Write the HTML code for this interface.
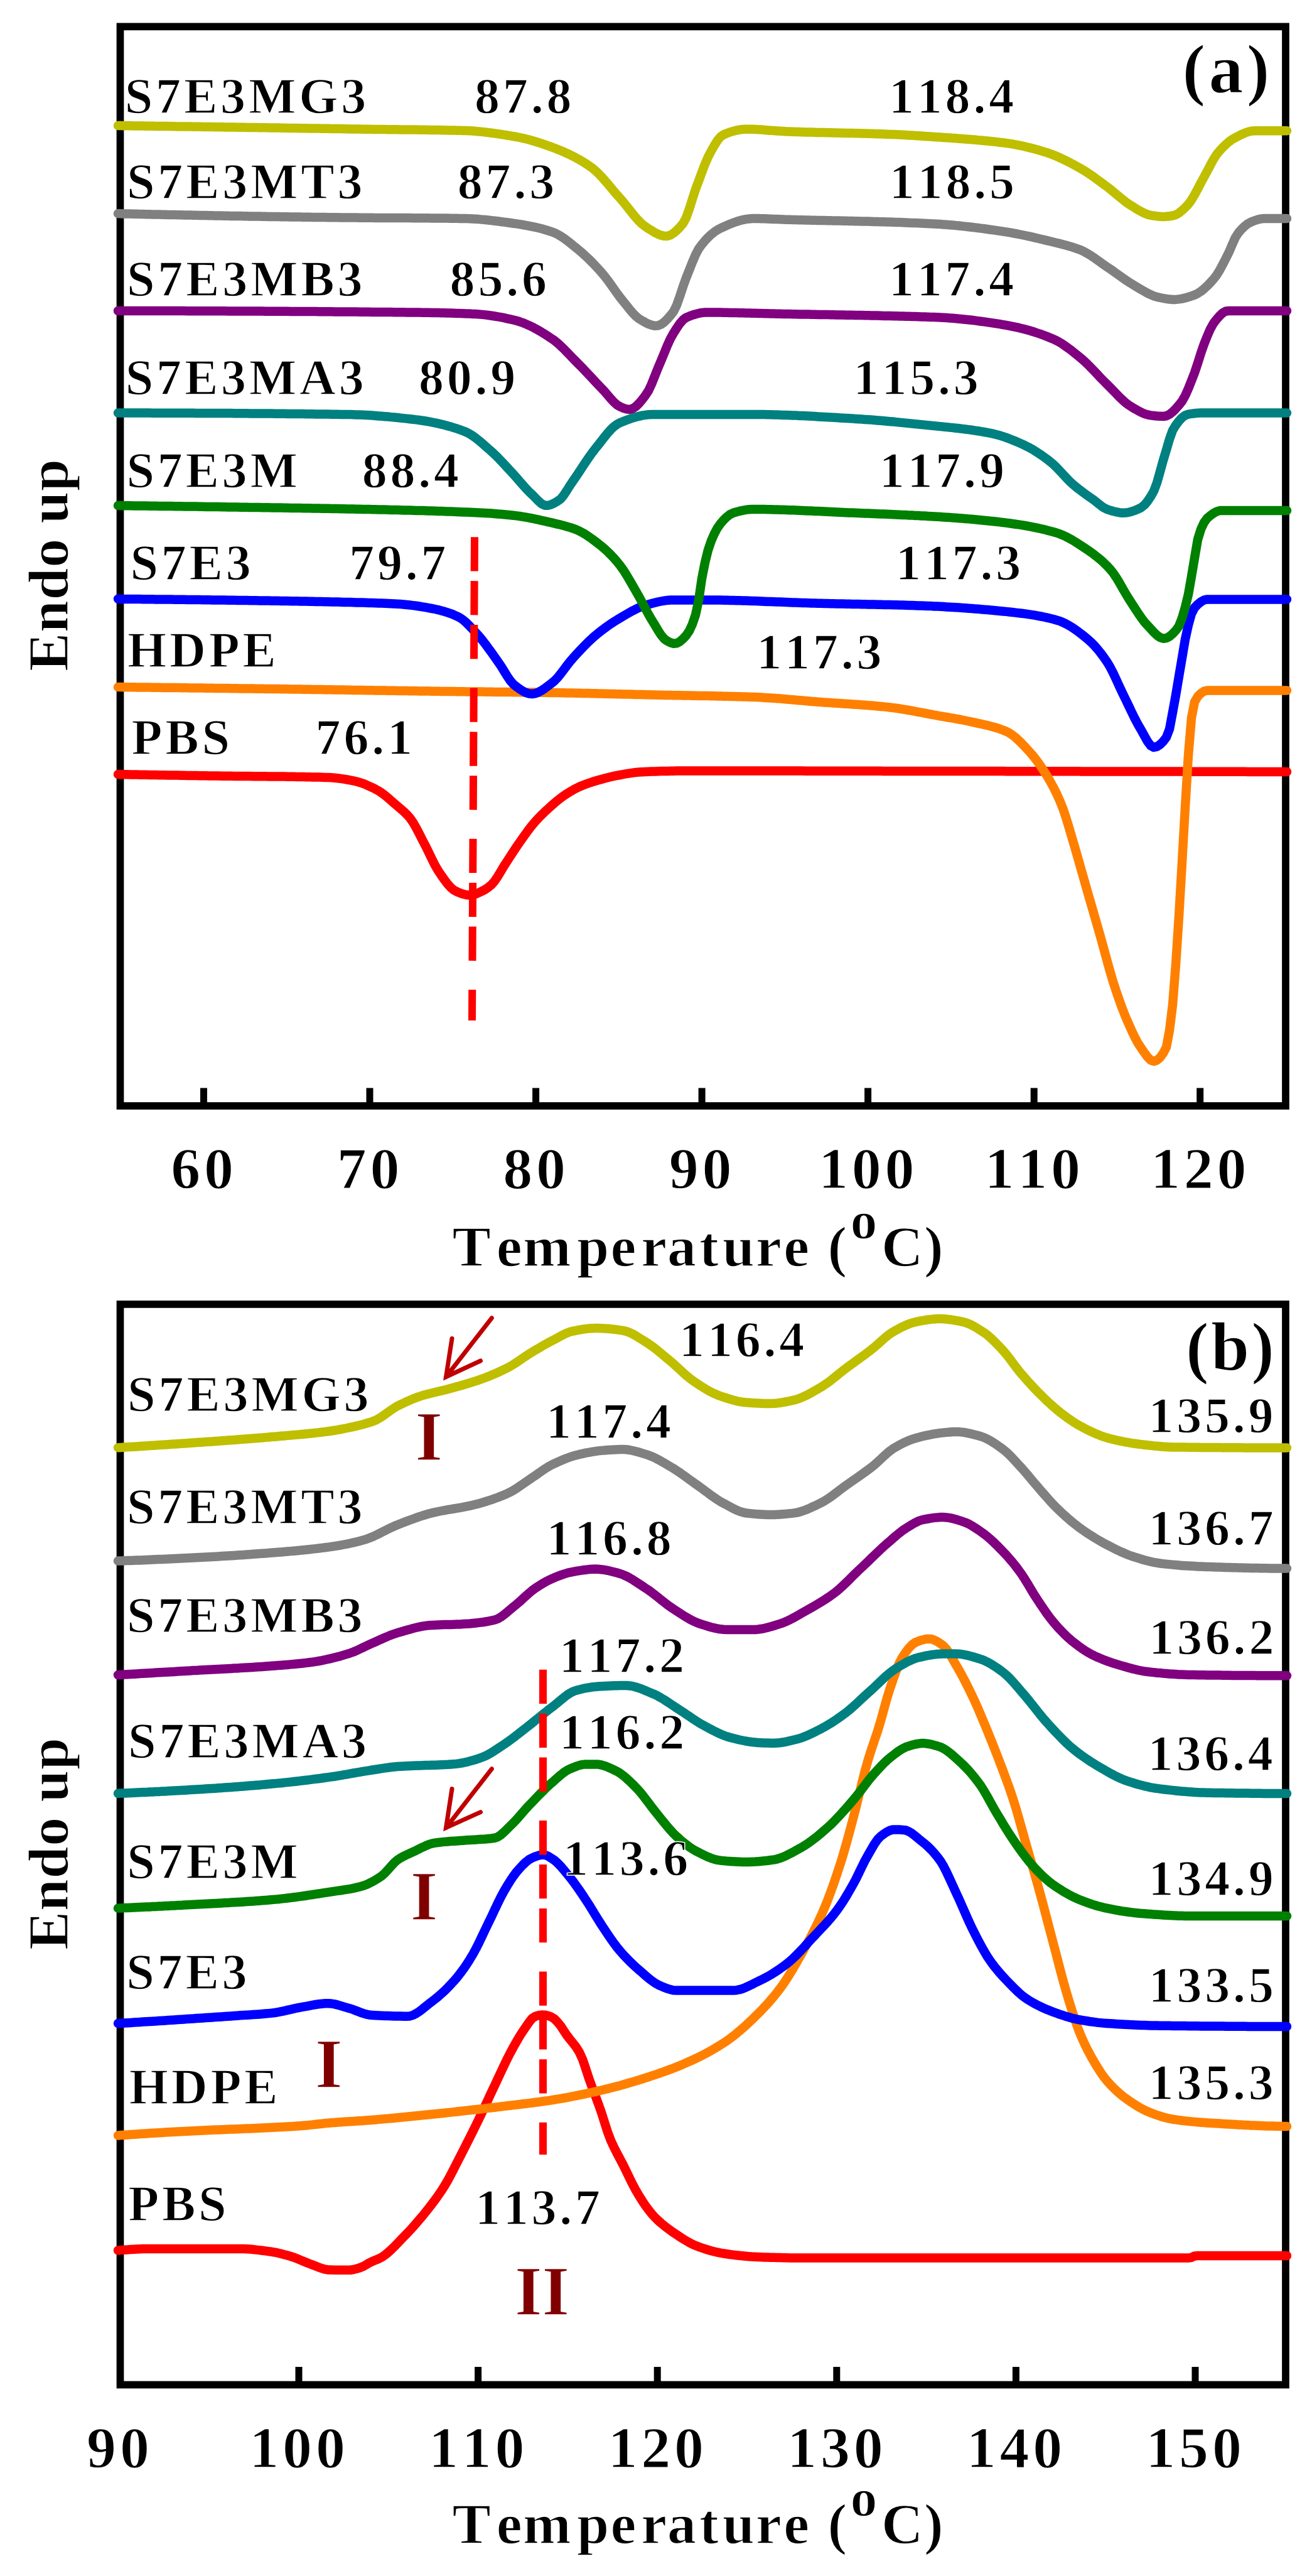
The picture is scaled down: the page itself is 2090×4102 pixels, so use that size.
<!DOCTYPE html><html><head><meta charset="utf-8"><title>DSC curves</title>
<style>html,body{margin:0;padding:0;background:#fff}svg{display:block}text{font-family:"Liberation Serif","DejaVu Serif",serif;font-weight:bold;fill:#000;stroke:#fff;stroke-width:1.4px}</style></head><body>
<svg width="2090" height="4102" viewBox="0 0 2090 4102">
<rect width="2090" height="4102" fill="#fff"/>
<rect x="191.5" y="42.4" width="1856.5" height="1718.6" fill="none" stroke="#000" stroke-width="11.7"/>
<rect x="319.0" y="1732.5" width="11" height="28.5" fill="#000"/>
<rect x="583.5" y="1732.5" width="11" height="28.5" fill="#000"/>
<rect x="848.1" y="1732.5" width="11" height="28.5" fill="#000"/>
<rect x="1112.6" y="1732.5" width="11" height="28.5" fill="#000"/>
<rect x="1377.1" y="1732.5" width="11" height="28.5" fill="#000"/>
<rect x="1641.7" y="1732.5" width="11" height="28.5" fill="#000"/>
<rect x="1906.2" y="1732.5" width="11" height="28.5" fill="#000"/>
<path d="M188 1233.1 193 1233.2 198 1233.3 203 1233.3 208 1233.4 213 1233.5 218 1233.6 223 1233.7 228 1233.8 233 1233.8 238 1233.9 243 1234.0 248 1234.1 253 1234.2 258 1234.2 263 1234.3 268 1234.4 273 1234.5 278 1234.6 283 1234.6 288 1234.7 293 1234.8 298 1234.9 303 1234.9 308 1235.0 313 1235.1 318 1235.2 323 1235.2 328 1235.3 333 1235.4 338 1235.5 343 1235.5 348 1235.6 353 1235.7 358 1235.7 363 1235.8 368 1235.8 373 1235.9 378 1235.9 383 1236.0 388 1236.0 393 1236.1 398 1236.1 403 1236.2 408 1236.2 413 1236.2 418 1236.3 423 1236.3 428 1236.4 433 1236.4 438 1236.5 443 1236.5 448 1236.6 453 1236.6 458 1236.7 463 1236.8 468 1236.8 473 1236.9 478 1237.0 483 1237.1 488 1237.2 493 1237.3 498 1237.4 503 1237.5 508 1237.6 513 1237.8 518 1237.9 523 1238.1 528 1238.3 533 1238.7 538 1239.3 543 1239.9 548 1240.7 553 1241.5 558 1242.4 563 1243.4 568 1244.5 573 1245.9 578 1247.6 583 1249.6 588 1251.8 593 1254.1 598 1256.6 603 1259.3 608 1262.6 613 1266.3 618 1270.5 623 1274.9 628 1279.3 633 1283.5 638 1287.7 643 1292.1 648 1296.9 653 1302.5 658 1309.6 663 1318.3 668 1327.9 673 1337.8 678 1347.3 683 1357.5 688 1367.9 693 1377.9 698 1386.5 703 1393.9 708 1401.0 713 1407.6 718 1413.2 723 1417.4 728 1420.0 733 1422.1 738 1423.8 743 1425.0 748 1425.5 753 1425.0 758 1423.5 763 1421.3 768 1419.0 773 1416.3 778 1412.9 783 1408.7 788 1403.0 793 1395.5 798 1387.2 803 1378.8 808 1371.1 813 1363.4 818 1355.8 823 1348.3 828 1341.0 833 1333.9 838 1326.9 843 1320.1 848 1313.8 853 1307.9 858 1302.5 863 1297.4 868 1292.6 873 1288.0 878 1283.4 883 1279.0 888 1274.8 893 1270.8 898 1267.2 903 1263.9 908 1260.8 913 1257.9 918 1255.2 923 1252.8 928 1250.7 933 1248.8 938 1247.0 943 1245.3 948 1243.8 953 1242.3 958 1240.9 963 1239.5 968 1238.2 973 1237.0 978 1235.9 983 1234.9 988 1234.0 993 1233.0 998 1232.1 1003 1231.3 1008 1230.6 1013 1230.0 1018 1229.6 1023 1229.3 1028 1229.0 1033 1228.8 1038 1228.5 1043 1228.4 1048 1228.2 1053 1228.1 1058 1228.0 1063 1227.9 1068 1227.8 1073 1227.7 1078 1227.6 1083 1227.6 1088 1227.5 1093 1227.5 1098 1227.5 1103 1227.5 1108 1227.5 1113 1227.5 1118 1227.5 1123 1227.5 1128 1227.5 1133 1227.5 1138 1227.5 1143 1227.5 1148 1227.5 1153 1227.5 1158 1227.5 1163 1227.5 1168 1227.5 1173 1227.5 1178 1227.5 1183 1227.5 1188 1227.5 1193 1227.5 1198 1227.6 1203 1227.6 1208 1227.6 1213 1227.6 1218 1227.6 1223 1227.6 1228 1227.6 1233 1227.6 1238 1227.6 1243 1227.6 1248 1227.6 1253 1227.6 1258 1227.6 1263 1227.6 1268 1227.6 1273 1227.6 1278 1227.6 1283 1227.7 1288 1227.7 1293 1227.7 1298 1227.7 1303 1227.7 1308 1227.7 1313 1227.7 1318 1227.7 1323 1227.7 1328 1227.7 1333 1227.7 1338 1227.7 1343 1227.7 1348 1227.8 1353 1227.8 1358 1227.8 1363 1227.8 1368 1227.8 1373 1227.8 1378 1227.8 1383 1227.8 1388 1227.8 1393 1227.8 1398 1227.8 1403 1227.8 1408 1227.9 1413 1227.9 1418 1227.9 1423 1227.9 1428 1227.9 1433 1227.9 1438 1227.9 1443 1227.9 1448 1227.9 1453 1227.9 1458 1227.9 1463 1227.9 1468 1228.0 1473 1228.0 1478 1228.0 1483 1228.0 1488 1228.0 1493 1228.0 1498 1228.0 1503 1228.0 1508 1228.0 1513 1228.0 1518 1228.0 1523 1228.0 1528 1228.0 1533 1228.0 1538 1228.1 1543 1228.1 1548 1228.1 1553 1228.1 1558 1228.1 1563 1228.1 1568 1228.1 1573 1228.1 1578 1228.1 1583 1228.1 1588 1228.1 1593 1228.1 1598 1228.1 1603 1228.2 1608 1228.2 1613 1228.2 1618 1228.2 1623 1228.2 1628 1228.2 1633 1228.2 1638 1228.2 1643 1228.2 1648 1228.2 1653 1228.2 1658 1228.2 1663 1228.3 1668 1228.3 1673 1228.3 1678 1228.3 1683 1228.3 1688 1228.3 1693 1228.3 1698 1228.3 1703 1228.3 1708 1228.3 1713 1228.3 1718 1228.3 1723 1228.4 1728 1228.4 1733 1228.4 1738 1228.4 1743 1228.4 1748 1228.4 1753 1228.4 1758 1228.4 1763 1228.4 1768 1228.4 1773 1228.4 1778 1228.5 1783 1228.5 1788 1228.5 1793 1228.5 1798 1228.5 1803 1228.5 1808 1228.5 1813 1228.5 1818 1228.5 1823 1228.5 1828 1228.5 1833 1228.6 1838 1228.6 1843 1228.6 1848 1228.6 1853 1228.6 1858 1228.6 1863 1228.6 1868 1228.6 1873 1228.6 1878 1228.6 1883 1228.6 1888 1228.7 1893 1228.7 1898 1228.7 1903 1228.7 1908 1228.7 1913 1228.7 1918 1228.7 1923 1228.7 1928 1228.7 1933 1228.7 1938 1228.8 1943 1228.8 1948 1228.8 1953 1228.8 1958 1228.8 1963 1228.8 1968 1228.8 1973 1228.8 1978 1228.8 1983 1228.8 1988 1228.9 1993 1228.9 1998 1228.9 2003 1228.9 2008 1228.9 2013 1228.9 2018 1228.9 2023 1228.9 2028 1228.9 2033 1229.0 2038 1229.0 2043 1229.0 2048 1229.0 2050 1229.0" fill="none" stroke="#ff0000" stroke-width="14.5" stroke-linejoin="round" stroke-linecap="round"/>
<path d="M188 1094.1 193 1094.1 198 1094.2 203 1094.2 208 1094.3 213 1094.3 218 1094.4 223 1094.5 228 1094.5 233 1094.6 238 1094.6 243 1094.7 248 1094.7 253 1094.8 258 1094.9 263 1094.9 268 1095.0 273 1095.0 278 1095.1 283 1095.1 288 1095.2 293 1095.3 298 1095.3 303 1095.4 308 1095.4 313 1095.5 318 1095.6 323 1095.6 328 1095.7 333 1095.7 338 1095.8 343 1095.9 348 1095.9 353 1096.0 358 1096.0 363 1096.1 368 1096.2 373 1096.2 378 1096.3 383 1096.4 388 1096.4 393 1096.5 398 1096.5 403 1096.6 408 1096.7 413 1096.7 418 1096.8 423 1096.9 428 1096.9 433 1097.0 438 1097.1 443 1097.1 448 1097.2 453 1097.3 458 1097.3 463 1097.4 468 1097.5 473 1097.5 478 1097.6 483 1097.7 488 1097.8 493 1097.8 498 1097.9 503 1098.0 508 1098.0 513 1098.1 518 1098.2 523 1098.3 528 1098.3 533 1098.4 538 1098.5 543 1098.6 548 1098.6 553 1098.7 558 1098.8 563 1098.9 568 1098.9 573 1099.0 578 1099.1 583 1099.2 588 1099.2 593 1099.3 598 1099.4 603 1099.4 608 1099.5 613 1099.6 618 1099.7 623 1099.7 628 1099.8 633 1099.9 638 1100.0 643 1100.0 648 1100.1 653 1100.2 658 1100.2 663 1100.3 668 1100.4 673 1100.5 678 1100.5 683 1100.6 688 1100.7 693 1100.7 698 1100.8 703 1100.9 708 1100.9 713 1101.0 718 1101.1 723 1101.1 728 1101.2 733 1101.2 738 1101.3 743 1101.4 748 1101.4 753 1101.5 758 1101.5 763 1101.6 768 1101.6 773 1101.7 778 1101.7 783 1101.8 788 1101.9 793 1101.9 798 1102.0 803 1102.0 808 1102.1 813 1102.1 818 1102.2 823 1102.2 828 1102.3 833 1102.4 838 1102.4 843 1102.5 848 1102.5 853 1102.6 858 1102.7 863 1102.7 868 1102.8 873 1102.9 878 1103.0 883 1103.0 888 1103.1 893 1103.2 898 1103.3 903 1103.4 908 1103.5 913 1103.6 918 1103.7 923 1103.8 928 1103.9 933 1104.0 938 1104.1 943 1104.2 948 1104.3 953 1104.5 958 1104.6 963 1104.7 968 1104.8 973 1104.9 978 1105.1 983 1105.2 988 1105.3 993 1105.4 998 1105.5 1003 1105.6 1008 1105.8 1013 1105.9 1018 1106.0 1023 1106.1 1028 1106.2 1033 1106.3 1038 1106.5 1043 1106.6 1048 1106.7 1053 1106.8 1058 1106.9 1063 1107.0 1068 1107.1 1073 1107.2 1078 1107.2 1083 1107.3 1088 1107.4 1093 1107.5 1098 1107.6 1103 1107.7 1108 1107.8 1113 1107.9 1118 1107.9 1123 1108.0 1128 1108.1 1133 1108.2 1138 1108.3 1143 1108.4 1148 1108.5 1153 1108.7 1158 1108.8 1163 1108.9 1168 1109.0 1173 1109.2 1178 1109.3 1183 1109.4 1188 1109.6 1193 1109.8 1198 1109.9 1203 1110.1 1208 1110.3 1213 1110.6 1218 1110.9 1223 1111.2 1228 1111.5 1233 1111.8 1238 1112.2 1243 1112.6 1248 1113.0 1253 1113.4 1258 1113.9 1263 1114.3 1268 1114.7 1273 1115.2 1278 1115.6 1283 1116.0 1288 1116.5 1293 1116.9 1298 1117.3 1303 1117.7 1308 1118.1 1313 1118.4 1318 1118.8 1323 1119.1 1328 1119.5 1333 1119.8 1338 1120.1 1343 1120.5 1348 1120.8 1353 1121.1 1358 1121.4 1363 1121.8 1368 1122.1 1373 1122.5 1378 1122.8 1383 1123.2 1388 1123.6 1393 1124.0 1398 1124.5 1403 1124.9 1408 1125.4 1413 1125.9 1418 1126.5 1423 1127.1 1428 1127.8 1433 1128.5 1438 1129.3 1443 1130.2 1448 1131.0 1453 1131.9 1458 1132.8 1463 1133.8 1468 1134.7 1473 1135.7 1478 1136.6 1483 1137.5 1488 1138.5 1493 1139.4 1498 1140.3 1503 1141.1 1508 1142.0 1513 1142.9 1518 1143.7 1523 1144.6 1528 1145.5 1533 1146.5 1538 1147.5 1543 1148.5 1548 1149.6 1553 1150.7 1558 1151.8 1563 1152.8 1568 1154.0 1573 1155.1 1578 1156.4 1583 1157.7 1588 1159.2 1593 1160.9 1598 1162.7 1603 1164.8 1608 1167.3 1613 1170.7 1618 1174.7 1623 1179.3 1628 1184.2 1633 1189.5 1638 1194.9 1643 1200.5 1648 1206.5 1653 1213.1 1658 1220.2 1663 1227.8 1668 1235.8 1673 1244.4 1678 1253.6 1683 1263.6 1688 1274.6 1693 1286.9 1698 1301.6 1703 1318.1 1708 1335.3 1713 1352.1 1718 1369.4 1723 1387.1 1728 1404.7 1733 1422.2 1738 1439.5 1743 1456.8 1748 1474.1 1753 1491.5 1758 1509.5 1763 1528.0 1768 1546.0 1773 1562.9 1778 1578.2 1783 1592.7 1788 1606.4 1793 1619.1 1798 1630.7 1803 1641.9 1808 1652.3 1813 1661.4 1818 1669.0 1823 1676.3 1828 1683.1 1833 1688.1 1838 1690.0 1843 1688.4 1848 1684.0 1853 1677.1 1858 1667.5 1863 1640.9 1868 1600.0 1873 1536.1 1878 1459.3 1883 1373.7 1888 1285.4 1893 1202.7 1898 1143.1 1903 1117.7 1908 1109.1 1913 1104.0 1918 1100.8 1923 1099.5 1928 1099.5 1933 1099.5 1938 1099.5 1943 1099.5 1948 1099.5 1953 1099.5 1958 1099.5 1963 1099.5 1968 1099.5 1973 1099.5 1978 1099.5 1983 1099.5 1988 1099.5 1993 1099.5 1998 1099.5 2003 1099.5 2008 1099.5 2013 1099.5 2018 1099.5 2023 1099.5 2028 1099.5 2033 1099.5 2038 1099.5 2043 1099.5 2048 1099.5 2050 1099.5" fill="none" stroke="#ff8000" stroke-width="14.5" stroke-linejoin="round" stroke-linecap="round"/>
<path d="M188 953.8 193 953.9 198 953.9 203 954.0 208 954.0 213 954.0 218 954.1 223 954.1 228 954.2 233 954.2 238 954.3 243 954.3 248 954.4 253 954.4 258 954.5 263 954.5 268 954.6 273 954.6 278 954.7 283 954.7 288 954.8 293 954.8 298 954.9 303 955.0 308 955.0 313 955.1 318 955.1 323 955.2 328 955.3 333 955.3 338 955.4 343 955.4 348 955.5 353 955.6 358 955.6 363 955.7 368 955.8 373 955.8 378 955.9 383 956.0 388 956.0 393 956.1 398 956.2 403 956.2 408 956.3 413 956.4 418 956.4 423 956.5 428 956.6 433 956.7 438 956.8 443 956.8 448 956.9 453 957.0 458 957.1 463 957.2 468 957.2 473 957.3 478 957.4 483 957.5 488 957.6 493 957.7 498 957.8 503 957.9 508 958.0 513 958.1 518 958.2 523 958.3 528 958.4 533 958.5 538 958.6 543 958.8 548 958.9 553 959.0 558 959.1 563 959.2 568 959.4 573 959.5 578 959.6 583 959.7 588 959.9 593 960.0 598 960.2 603 960.4 608 960.6 613 960.8 618 961.0 623 961.2 628 961.5 633 961.8 638 962.1 643 962.5 648 963.0 653 963.5 658 964.1 663 964.8 668 965.5 673 966.3 678 967.2 683 968.1 688 969.0 693 970.0 698 971.1 703 972.4 708 973.8 713 975.4 718 977.1 723 979.1 728 981.3 733 983.9 738 987.4 743 991.8 748 996.7 753 1002.1 758 1007.5 763 1013.0 768 1019.0 773 1025.4 778 1032.2 783 1039.1 788 1046.2 793 1053.2 798 1060.5 803 1068.6 808 1076.7 813 1084.1 818 1089.8 823 1093.7 828 1097.3 833 1100.5 838 1103.0 843 1104.6 848 1105.0 853 1104.1 858 1102.2 863 1099.4 868 1096.1 873 1092.3 878 1088.5 883 1084.5 888 1079.3 893 1073.2 898 1066.6 903 1059.9 908 1053.5 913 1047.7 918 1042.2 923 1036.8 928 1031.5 933 1026.4 938 1021.4 943 1016.7 948 1012.3 953 1008.2 958 1004.3 963 1000.5 968 996.9 973 993.4 978 990.2 983 987.0 988 984.0 993 981.1 998 978.1 1003 975.2 1008 972.4 1013 969.9 1018 967.5 1023 965.5 1028 963.8 1033 962.4 1038 961.1 1043 959.8 1048 958.5 1053 957.5 1058 956.6 1063 955.9 1068 955.5 1073 955.4 1078 955.4 1083 955.4 1088 955.4 1093 955.4 1098 955.4 1103 955.4 1108 955.4 1113 955.4 1118 955.4 1123 955.4 1128 955.4 1133 955.5 1138 955.5 1143 955.6 1148 955.6 1153 955.7 1158 955.8 1163 955.9 1168 956.1 1173 956.2 1178 956.3 1183 956.5 1188 956.6 1193 956.8 1198 956.9 1203 957.1 1208 957.3 1213 957.5 1218 957.7 1223 957.9 1228 958.0 1233 958.2 1238 958.4 1243 958.6 1248 958.8 1253 959.0 1258 959.2 1263 959.4 1268 959.6 1273 959.7 1278 959.9 1283 960.1 1288 960.3 1293 960.4 1298 960.6 1303 960.7 1308 960.8 1313 960.9 1318 961.1 1323 961.2 1328 961.3 1333 961.4 1338 961.5 1343 961.6 1348 961.7 1353 961.8 1358 961.9 1363 962.0 1368 962.1 1373 962.2 1378 962.3 1383 962.4 1388 962.5 1393 962.6 1398 962.7 1403 962.8 1408 962.9 1413 963.0 1418 963.1 1423 963.2 1428 963.3 1433 963.5 1438 963.6 1443 963.7 1448 963.9 1453 964.0 1458 964.2 1463 964.4 1468 964.5 1473 964.7 1478 964.9 1483 965.1 1488 965.4 1493 965.6 1498 965.8 1503 966.1 1508 966.4 1513 966.7 1518 967.0 1523 967.3 1528 967.6 1533 967.9 1538 968.3 1543 968.7 1548 969.0 1553 969.4 1558 969.8 1563 970.2 1568 970.7 1573 971.1 1578 971.5 1583 972.0 1588 972.5 1593 973.0 1598 973.4 1603 973.9 1608 974.5 1613 975.0 1618 975.6 1623 976.2 1628 976.8 1633 977.4 1638 978.2 1643 978.9 1648 979.7 1653 980.6 1658 981.5 1663 982.5 1668 983.6 1673 984.8 1678 986.0 1683 987.4 1688 988.9 1693 991.0 1698 993.4 1703 996.1 1708 999.2 1713 1002.6 1718 1006.2 1723 1010.0 1728 1014.0 1733 1018.1 1738 1022.6 1743 1027.7 1748 1033.3 1753 1039.5 1758 1046.1 1763 1053.3 1768 1061.5 1773 1071.1 1778 1081.8 1783 1092.7 1788 1103.4 1793 1113.6 1798 1124.0 1803 1134.5 1808 1144.7 1813 1154.1 1818 1162.7 1823 1171.7 1828 1180.6 1833 1187.3 1838 1190.0 1843 1188.9 1848 1185.7 1853 1180.7 1858 1174.0 1863 1161.0 1868 1134.4 1873 1107.0 1878 1077.1 1883 1047.8 1888 1018.1 1893 995.3 1898 977.4 1903 967.6 1908 962.4 1913 958.3 1918 955.5 1923 954.4 1928 954.4 1933 954.4 1938 954.4 1943 954.4 1948 954.4 1953 954.4 1958 954.4 1963 954.4 1968 954.4 1973 954.4 1978 954.4 1983 954.4 1988 954.4 1993 954.4 1998 954.4 2003 954.4 2008 954.4 2013 954.4 2018 954.4 2023 954.4 2028 954.4 2033 954.4 2038 954.4 2043 954.4 2048 954.4 2050 954.4" fill="none" stroke="#0000ff" stroke-width="14.5" stroke-linejoin="round" stroke-linecap="round"/>
<path d="M188 805.1 193 805.1 198 805.2 203 805.2 208 805.3 213 805.4 218 805.4 223 805.5 228 805.5 233 805.6 238 805.7 243 805.7 248 805.8 253 805.9 258 805.9 263 806.0 268 806.0 273 806.1 278 806.2 283 806.2 288 806.3 293 806.4 298 806.4 303 806.5 308 806.6 313 806.6 318 806.7 323 806.8 328 806.9 333 806.9 338 807.0 343 807.1 348 807.1 353 807.2 358 807.3 363 807.4 368 807.4 373 807.5 378 807.6 383 807.7 388 807.7 393 807.8 398 807.9 403 807.9 408 808.0 413 808.1 418 808.2 423 808.2 428 808.3 433 808.4 438 808.5 443 808.5 448 808.6 453 808.7 458 808.8 463 808.9 468 808.9 473 809.0 478 809.1 483 809.2 488 809.2 493 809.3 498 809.4 503 809.5 508 809.6 513 809.7 518 809.7 523 809.8 528 809.9 533 810.0 538 810.1 543 810.2 548 810.3 553 810.4 558 810.5 563 810.6 568 810.7 573 810.8 578 810.9 583 811.0 588 811.1 593 811.2 598 811.3 603 811.4 608 811.5 613 811.6 618 811.8 623 811.9 628 812.0 633 812.1 638 812.2 643 812.4 648 812.5 653 812.6 658 812.7 663 812.9 668 813.0 673 813.1 678 813.3 683 813.4 688 813.6 693 813.7 698 813.9 703 814.1 708 814.2 713 814.4 718 814.6 723 814.8 728 815.0 733 815.2 738 815.4 743 815.6 748 815.8 753 816.0 758 816.3 763 816.5 768 816.8 773 817.0 778 817.3 783 817.6 788 818.0 793 818.4 798 818.8 803 819.3 808 819.7 813 820.2 818 820.8 823 821.4 828 822.0 833 822.8 838 823.7 843 824.6 848 825.5 853 826.6 858 827.7 863 828.8 868 829.9 873 831.1 878 832.2 883 833.4 888 834.6 893 835.7 898 837.0 903 838.4 908 839.9 913 841.5 918 843.4 923 845.6 928 848.3 933 851.3 938 854.6 943 858.1 948 861.8 953 865.7 958 869.6 963 873.9 968 878.5 973 883.5 978 888.8 983 894.5 988 900.7 993 907.7 998 915.6 1003 924.0 1008 932.7 1013 941.3 1018 950.1 1023 959.4 1028 968.9 1033 978.1 1038 986.8 1043 994.9 1048 1003.3 1053 1011.1 1058 1017.2 1063 1020.7 1068 1023.2 1073 1024.7 1078 1024.3 1083 1021.6 1088 1017.2 1093 1011.9 1098 1004.7 1103 993.7 1108 979.1 1113 955.7 1118 921.3 1123 896.0 1128 875.8 1133 861.2 1138 849.7 1143 840.4 1148 833.5 1153 827.8 1158 822.9 1163 819.1 1168 816.7 1173 815.2 1178 813.9 1183 812.8 1188 811.9 1193 811.3 1198 811.0 1203 811.0 1208 811.0 1213 811.1 1218 811.1 1223 811.2 1228 811.3 1233 811.4 1238 811.5 1243 811.7 1248 811.8 1253 812.0 1258 812.2 1263 812.3 1268 812.5 1273 812.7 1278 813.0 1283 813.2 1288 813.4 1293 813.6 1298 813.9 1303 814.1 1308 814.3 1313 814.6 1318 814.8 1323 815.0 1328 815.3 1333 815.5 1338 815.7 1343 816.0 1348 816.2 1353 816.4 1358 816.6 1363 816.8 1368 817.0 1373 817.2 1378 817.4 1383 817.6 1388 817.8 1393 818.0 1398 818.2 1403 818.4 1408 818.6 1413 818.8 1418 819.0 1423 819.2 1428 819.5 1433 819.7 1438 819.9 1443 820.1 1448 820.4 1453 820.6 1458 820.9 1463 821.1 1468 821.4 1473 821.6 1478 821.9 1483 822.2 1488 822.5 1493 822.8 1498 823.1 1503 823.4 1508 823.7 1513 824.1 1518 824.4 1523 824.8 1528 825.2 1533 825.5 1538 825.9 1543 826.4 1548 826.8 1553 827.2 1558 827.7 1563 828.2 1568 828.7 1573 829.2 1578 829.7 1583 830.3 1588 830.8 1593 831.4 1598 832.0 1603 832.6 1608 833.3 1613 834.0 1618 834.7 1623 835.4 1628 836.2 1633 837.0 1638 837.9 1643 838.8 1648 839.8 1653 840.9 1658 842.0 1663 843.1 1668 844.4 1673 845.7 1678 847.1 1683 848.5 1688 850.2 1693 852.2 1698 854.5 1703 857.1 1708 859.9 1713 862.9 1718 866.1 1723 869.3 1728 872.6 1733 876.0 1738 879.5 1743 883.2 1748 887.1 1753 891.2 1758 895.7 1763 900.6 1768 905.9 1773 912.0 1778 919.3 1783 927.6 1788 936.3 1793 945.0 1798 953.3 1803 961.0 1808 968.7 1813 976.4 1818 983.7 1823 990.3 1828 995.9 1833 1001.3 1838 1006.7 1843 1011.5 1848 1015.1 1853 1016.7 1858 1016.1 1863 1013.5 1868 1009.3 1873 1003.9 1878 997.0 1883 984.2 1888 966.9 1893 946.6 1898 917.9 1903 888.3 1908 859.0 1913 842.8 1918 832.1 1923 825.3 1928 821.0 1933 817.3 1938 814.6 1943 813.1 1948 813.0 1953 813.0 1958 813.0 1963 813.0 1968 813.0 1973 813.0 1978 813.0 1983 813.0 1988 813.0 1993 813.0 1998 813.0 2003 813.0 2008 813.0 2013 813.0 2018 813.0 2023 813.0 2028 813.0 2033 813.0 2038 813.0 2043 813.0 2048 813.0 2050 813.0" fill="none" stroke="#008000" stroke-width="14.5" stroke-linejoin="round" stroke-linecap="round"/>
<path d="M188 657.6 193 657.6 198 657.6 203 657.6 208 657.6 213 657.6 218 657.6 223 657.6 228 657.6 233 657.6 238 657.6 243 657.7 248 657.7 253 657.7 258 657.7 263 657.7 268 657.7 273 657.7 278 657.7 283 657.8 288 657.8 293 657.8 298 657.8 303 657.8 308 657.8 313 657.9 318 657.9 323 657.9 328 657.9 333 658.0 338 658.0 343 658.0 348 658.0 353 658.1 358 658.1 363 658.1 368 658.1 373 658.2 378 658.2 383 658.2 388 658.3 393 658.3 398 658.4 403 658.4 408 658.4 413 658.5 418 658.5 423 658.5 428 658.6 433 658.6 438 658.7 443 658.7 448 658.8 453 658.8 458 658.9 463 658.9 468 659.0 473 659.0 478 659.1 483 659.1 488 659.2 493 659.2 498 659.3 503 659.4 508 659.4 513 659.5 518 659.5 523 659.6 528 659.7 533 659.7 538 659.8 543 659.9 548 659.9 553 660.0 558 660.1 563 660.2 568 660.4 573 660.6 578 660.8 583 661.0 588 661.3 593 661.6 598 662.0 603 662.4 608 662.7 613 663.2 618 663.6 623 664.1 628 664.5 633 665.0 638 665.6 643 666.1 648 666.6 653 667.2 658 667.8 663 668.4 668 669.0 673 669.7 678 670.5 683 671.4 688 672.3 693 673.3 698 674.4 703 675.6 708 676.8 713 678.2 718 679.6 723 681.1 728 682.7 733 684.4 738 686.2 743 688.3 748 690.9 753 694.0 758 697.6 763 701.6 768 705.8 773 710.2 778 714.6 783 719.0 788 723.6 793 728.5 798 733.7 803 739.0 808 744.5 813 749.9 818 755.3 823 760.9 828 766.7 833 772.4 838 778.0 843 783.2 848 787.9 853 793.0 858 798.1 863 802.4 868 804.8 873 804.7 878 803.4 883 801.1 888 798.2 893 794.6 898 788.6 903 781.0 908 773.0 913 765.6 918 758.3 923 750.9 928 743.3 933 735.7 938 728.4 943 721.4 948 714.8 953 708.6 958 702.2 963 695.8 968 689.7 973 684.1 978 679.3 983 675.6 988 673.0 993 671.0 998 669.0 1003 667.2 1008 665.5 1013 664.1 1018 662.8 1023 661.7 1028 660.9 1033 660.3 1038 660.0 1043 660.0 1048 660.0 1053 660.0 1058 660.0 1063 660.0 1068 660.0 1073 660.0 1078 660.0 1083 660.0 1088 660.0 1093 660.0 1098 660.0 1103 660.0 1108 660.0 1113 660.0 1118 660.0 1123 660.0 1128 660.0 1133 660.0 1138 660.0 1143 660.0 1148 660.0 1153 660.0 1158 660.0 1163 660.0 1168 660.0 1173 660.0 1178 660.0 1183 660.0 1188 660.0 1193 660.0 1198 660.0 1203 660.0 1208 660.0 1213 660.1 1218 660.1 1223 660.2 1228 660.3 1233 660.4 1238 660.6 1243 660.7 1248 660.9 1253 661.0 1258 661.2 1263 661.4 1268 661.6 1273 661.9 1278 662.1 1283 662.3 1288 662.6 1293 662.8 1298 663.1 1303 663.4 1308 663.7 1313 663.9 1318 664.2 1323 664.5 1328 664.8 1333 665.1 1338 665.4 1343 665.7 1348 666.0 1353 666.3 1358 666.6 1363 666.9 1368 667.2 1373 667.5 1378 667.9 1383 668.2 1388 668.6 1393 669.0 1398 669.4 1403 669.8 1408 670.3 1413 670.7 1418 671.2 1423 671.6 1428 672.1 1433 672.6 1438 673.1 1443 673.6 1448 674.1 1453 674.6 1458 675.1 1463 675.6 1468 676.1 1473 676.6 1478 677.1 1483 677.6 1488 678.1 1493 678.6 1498 679.1 1503 679.6 1508 680.1 1513 680.6 1518 681.1 1523 681.7 1528 682.3 1533 682.9 1538 683.5 1543 684.1 1548 684.8 1553 685.6 1558 686.3 1563 687.1 1568 688.0 1573 688.9 1578 689.8 1583 690.9 1588 692.2 1593 693.6 1598 695.2 1603 696.9 1608 698.8 1613 700.7 1618 702.8 1623 704.9 1628 707.1 1633 709.4 1638 711.9 1643 714.7 1648 717.6 1653 720.8 1658 724.1 1663 727.7 1668 731.3 1673 735.2 1678 739.4 1683 744.3 1688 749.5 1693 754.9 1698 760.3 1703 765.5 1708 770.2 1713 774.5 1718 778.5 1723 782.3 1728 786.0 1733 789.6 1738 793.1 1743 796.7 1748 800.7 1753 804.7 1758 808.3 1763 810.8 1768 812.5 1773 814.0 1778 815.2 1783 816.2 1788 816.7 1793 816.6 1798 815.8 1803 814.5 1808 812.7 1813 810.6 1818 808.2 1823 804.2 1828 798.3 1833 790.8 1838 782.0 1843 768.8 1848 751.0 1853 732.9 1858 716.3 1863 699.2 1868 685.3 1873 677.1 1878 670.4 1883 665.0 1888 661.3 1893 659.7 1898 658.9 1903 658.2 1908 657.8 1913 657.6 1918 657.6 1923 657.6 1928 657.6 1933 657.6 1938 657.6 1943 657.6 1948 657.6 1953 657.6 1958 657.6 1963 657.6 1968 657.6 1973 657.6 1978 657.6 1983 657.6 1988 657.6 1993 657.6 1998 657.6 2003 657.6 2008 657.6 2013 657.6 2018 657.6 2023 657.6 2028 657.6 2033 657.6 2038 657.6 2043 657.6 2048 657.6 2050 657.6" fill="none" stroke="#008080" stroke-width="14.5" stroke-linejoin="round" stroke-linecap="round"/>
<path d="M188 495.0 193 495.0 198 495.0 203 495.0 208 495.0 213 495.0 218 495.0 223 495.0 228 495.0 233 495.0 238 495.0 243 495.0 248 495.0 253 495.1 258 495.1 263 495.1 268 495.1 273 495.1 278 495.1 283 495.1 288 495.1 293 495.1 298 495.2 303 495.2 308 495.2 313 495.2 318 495.2 323 495.2 328 495.2 333 495.3 338 495.3 343 495.3 348 495.3 353 495.3 358 495.3 363 495.4 368 495.4 373 495.4 378 495.4 383 495.5 388 495.5 393 495.5 398 495.5 403 495.5 408 495.6 413 495.6 418 495.6 423 495.7 428 495.7 433 495.7 438 495.7 443 495.8 448 495.8 453 495.8 458 495.8 463 495.9 468 495.9 473 495.9 478 496.0 483 496.0 488 496.0 493 496.1 498 496.1 503 496.1 508 496.2 513 496.2 518 496.3 523 496.3 528 496.3 533 496.4 538 496.4 543 496.4 548 496.5 553 496.5 558 496.6 563 496.6 568 496.6 573 496.7 578 496.7 583 496.8 588 496.8 593 496.9 598 496.9 603 496.9 608 497.0 613 497.0 618 497.1 623 497.1 628 497.2 633 497.2 638 497.3 643 497.3 648 497.4 653 497.4 658 497.5 663 497.5 668 497.6 673 497.7 678 497.7 683 497.8 688 497.9 693 498.0 698 498.1 703 498.2 708 498.3 713 498.4 718 498.6 723 498.7 728 498.9 733 499.1 738 499.2 743 499.4 748 499.6 753 499.9 758 500.1 763 500.4 768 500.9 773 501.4 778 502.0 783 502.7 788 503.5 793 504.3 798 505.2 803 506.2 808 507.3 813 508.4 818 509.5 823 510.8 828 512.3 833 514.0 838 516.1 843 518.3 848 520.7 853 523.4 858 526.2 863 529.1 868 532.2 873 535.4 878 538.7 883 542.1 888 546.2 893 550.7 898 555.5 903 560.6 908 565.8 913 571.0 918 576.0 923 581.1 928 586.2 933 591.5 938 596.8 943 602.1 948 607.4 953 612.7 958 617.9 963 623.2 968 629.1 973 635.0 978 640.4 983 644.8 988 647.6 993 649.8 998 651.4 1003 652.0 1008 650.6 1013 647.2 1018 642.3 1023 636.3 1028 629.8 1033 622.2 1038 611.5 1043 599.0 1048 586.4 1053 574.7 1058 562.5 1063 550.3 1068 539.3 1073 530.4 1078 522.5 1083 515.2 1088 509.4 1093 505.7 1098 503.6 1103 501.7 1108 500.2 1113 498.9 1118 498.0 1123 497.6 1128 497.5 1133 497.5 1138 497.5 1143 497.6 1148 497.6 1153 497.7 1158 497.8 1163 497.9 1168 498.0 1173 498.1 1178 498.2 1183 498.3 1188 498.4 1193 498.5 1198 498.7 1203 498.8 1208 498.9 1213 499.0 1218 499.2 1223 499.3 1228 499.4 1233 499.6 1238 499.7 1243 499.8 1248 499.9 1253 500.0 1258 500.1 1263 500.2 1268 500.3 1273 500.4 1278 500.5 1283 500.5 1288 500.6 1293 500.7 1298 500.8 1303 500.9 1308 501.0 1313 501.1 1318 501.1 1323 501.2 1328 501.3 1333 501.4 1338 501.5 1343 501.6 1348 501.7 1353 501.8 1358 501.8 1363 501.9 1368 502.0 1373 502.1 1378 502.2 1383 502.3 1388 502.4 1393 502.5 1398 502.6 1403 502.8 1408 502.9 1413 503.0 1418 503.1 1423 503.2 1428 503.3 1433 503.5 1438 503.6 1443 503.7 1448 503.8 1453 504.0 1458 504.1 1463 504.2 1468 504.4 1473 504.6 1478 504.7 1483 504.9 1488 505.1 1493 505.3 1498 505.6 1503 505.8 1508 506.1 1513 506.5 1518 506.8 1523 507.3 1528 507.7 1533 508.2 1538 508.7 1543 509.2 1548 509.8 1553 510.4 1558 511.1 1563 511.7 1568 512.4 1573 513.1 1578 513.9 1583 514.6 1588 515.4 1593 516.2 1598 517.1 1603 517.9 1608 518.8 1613 519.8 1618 520.8 1623 521.9 1628 523.2 1633 524.4 1638 525.8 1643 527.3 1648 528.8 1653 530.5 1658 532.2 1663 534.0 1668 535.9 1673 537.9 1678 540.0 1683 542.4 1688 545.1 1693 548.2 1698 551.7 1703 555.3 1708 559.1 1713 563.1 1718 567.2 1723 571.3 1728 575.7 1733 580.5 1738 585.6 1743 590.8 1748 596.1 1753 601.4 1758 606.5 1763 611.5 1768 616.5 1773 621.6 1778 626.8 1783 632.0 1788 636.8 1793 641.2 1798 645.0 1803 648.2 1808 651.2 1813 654.0 1818 656.6 1823 658.8 1828 660.4 1833 661.4 1838 662.0 1843 662.5 1848 662.8 1853 663.0 1858 662.3 1863 659.8 1868 655.8 1873 650.8 1878 645.1 1883 638.9 1888 630.0 1893 618.8 1898 606.3 1903 593.4 1908 578.4 1913 562.3 1918 548.0 1923 535.5 1928 523.9 1933 514.9 1938 508.6 1943 502.8 1948 498.1 1953 495.4 1958 495.0 1963 495.0 1968 495.0 1973 495.0 1978 495.0 1983 495.0 1988 495.0 1993 495.0 1998 495.0 2003 495.0 2008 495.0 2013 495.0 2018 495.0 2023 495.0 2028 495.0 2033 495.0 2038 495.0 2043 495.0 2048 495.0 2050 495.0" fill="none" stroke="#800080" stroke-width="14.5" stroke-linejoin="round" stroke-linecap="round"/>
<path d="M188 340.1 193 340.3 198 340.4 203 340.5 208 340.6 213 340.7 218 340.8 223 340.9 228 341.1 233 341.2 238 341.3 243 341.4 248 341.5 253 341.6 258 341.7 263 341.8 268 341.9 273 342.0 278 342.1 283 342.2 288 342.3 293 342.4 298 342.5 303 342.6 308 342.7 313 342.8 318 342.9 323 343.0 328 343.1 333 343.2 338 343.3 343 343.4 348 343.5 353 343.6 358 343.7 363 343.8 368 343.9 373 344.0 378 344.0 383 344.1 388 344.2 393 344.3 398 344.4 403 344.5 408 344.5 413 344.6 418 344.7 423 344.8 428 344.9 433 344.9 438 345.0 443 345.1 448 345.2 453 345.2 458 345.3 463 345.4 468 345.4 473 345.5 478 345.6 483 345.7 488 345.7 493 345.8 498 345.9 503 345.9 508 346.0 513 346.0 518 346.1 523 346.2 528 346.2 533 346.3 538 346.3 543 346.4 548 346.4 553 346.5 558 346.5 563 346.6 568 346.6 573 346.7 578 346.7 583 346.8 588 346.8 593 346.8 598 346.9 603 346.9 608 346.9 613 346.9 618 347.0 623 347.0 628 347.0 633 347.0 638 347.1 643 347.1 648 347.1 653 347.1 658 347.2 663 347.2 668 347.2 673 347.3 678 347.3 683 347.3 688 347.4 693 347.4 698 347.5 703 347.5 708 347.6 713 347.6 718 347.7 723 347.7 728 347.8 733 347.9 738 348.0 743 348.1 748 348.2 753 348.5 758 348.8 763 349.1 768 349.6 773 350.0 778 350.5 783 351.1 788 351.7 793 352.3 798 353.0 803 353.6 808 354.3 813 355.0 818 355.7 823 356.4 828 357.2 833 358.0 838 358.8 843 359.8 848 360.8 853 361.9 858 363.0 863 364.3 868 365.7 873 367.2 878 368.8 883 370.7 888 373.0 893 375.9 898 379.2 903 382.9 908 386.8 913 390.8 918 394.9 923 399.0 928 403.3 933 407.8 938 412.5 943 417.5 948 422.7 953 428.1 958 433.7 963 439.6 968 446.1 973 453.0 978 460.1 983 467.1 988 473.9 993 480.1 998 486.3 1003 492.6 1008 498.5 1013 503.6 1018 507.6 1023 510.6 1028 513.4 1033 515.9 1038 517.7 1043 518.8 1048 518.6 1053 516.6 1058 513.0 1063 508.1 1068 502.4 1073 496.1 1078 485.8 1083 471.7 1088 456.4 1093 442.5 1098 430.0 1103 417.3 1108 405.7 1113 396.2 1118 389.3 1123 383.3 1128 378.0 1133 373.3 1138 369.3 1143 366.0 1148 363.4 1153 361.1 1158 358.9 1163 356.7 1168 354.8 1173 353.0 1178 351.4 1183 350.1 1188 349.1 1193 348.4 1198 348.0 1203 348.0 1208 348.1 1213 348.2 1218 348.3 1223 348.5 1228 348.7 1233 348.9 1238 349.1 1243 349.3 1248 349.5 1253 349.7 1258 349.8 1263 350.0 1268 350.1 1273 350.2 1278 350.3 1283 350.4 1288 350.6 1293 350.7 1298 350.8 1303 350.9 1308 351.0 1313 351.1 1318 351.2 1323 351.3 1328 351.4 1333 351.5 1338 351.6 1343 351.7 1348 351.8 1353 351.9 1358 352.1 1363 352.2 1368 352.3 1373 352.4 1378 352.5 1383 352.6 1388 352.8 1393 352.9 1398 353.0 1403 353.2 1408 353.3 1413 353.5 1418 353.6 1423 353.8 1428 354.0 1433 354.1 1438 354.3 1443 354.5 1448 354.7 1453 354.9 1458 355.1 1463 355.3 1468 355.5 1473 355.7 1478 356.0 1483 356.2 1488 356.5 1493 356.8 1498 357.1 1503 357.4 1508 357.8 1513 358.2 1518 358.6 1523 359.1 1528 359.5 1533 360.1 1538 360.6 1543 361.2 1548 361.7 1553 362.4 1558 363.0 1563 363.6 1568 364.3 1573 365.0 1578 365.7 1583 366.4 1588 367.2 1593 367.9 1598 368.7 1603 369.4 1608 370.2 1613 371.1 1618 372.0 1623 373.0 1628 374.0 1633 375.0 1638 376.1 1643 377.2 1648 378.4 1653 379.5 1658 380.7 1663 381.9 1668 383.1 1673 384.3 1678 385.5 1683 386.7 1688 387.9 1693 389.2 1698 390.5 1703 391.9 1708 393.4 1713 395.1 1718 396.8 1723 398.8 1728 401.3 1733 404.1 1738 407.2 1743 410.6 1748 414.1 1753 417.7 1758 421.3 1763 424.7 1768 428.0 1773 431.5 1778 435.1 1783 438.7 1788 442.2 1793 445.7 1798 449.1 1803 452.2 1808 455.2 1813 458.2 1818 461.2 1823 464.1 1828 466.9 1833 469.3 1838 471.4 1843 472.9 1848 474.0 1853 475.0 1858 475.9 1863 476.6 1868 477.0 1873 476.9 1878 476.4 1883 475.6 1888 474.4 1893 473.0 1898 471.4 1903 469.6 1908 467.2 1913 464.0 1918 460.0 1923 455.3 1928 450.2 1933 444.6 1938 438.2 1943 430.1 1948 420.8 1953 411.0 1958 401.0 1963 389.2 1968 378.1 1973 370.4 1978 364.7 1983 359.9 1988 356.1 1993 353.5 1998 351.5 2003 349.8 2008 348.6 2013 348.0 2018 348.0 2023 348.0 2028 348.0 2033 348.0 2038 348.0 2043 348.0 2048 348.0 2050 348.0" fill="none" stroke="#808080" stroke-width="14.5" stroke-linejoin="round" stroke-linecap="round"/>
<path d="M188 200.1 193 200.1 198 200.2 203 200.3 208 200.3 213 200.4 218 200.5 223 200.5 228 200.6 233 200.7 238 200.7 243 200.8 248 200.9 253 200.9 258 201.0 263 201.1 268 201.1 273 201.2 278 201.3 283 201.4 288 201.4 293 201.5 298 201.6 303 201.6 308 201.7 313 201.8 318 201.8 323 201.9 328 202.0 333 202.0 338 202.1 343 202.2 348 202.3 353 202.3 358 202.4 363 202.5 368 202.5 373 202.6 378 202.7 383 202.8 388 202.8 393 202.9 398 203.0 403 203.0 408 203.1 413 203.2 418 203.3 423 203.3 428 203.4 433 203.5 438 203.6 443 203.6 448 203.7 453 203.8 458 203.9 463 203.9 468 204.0 473 204.1 478 204.2 483 204.2 488 204.3 493 204.4 498 204.5 503 204.5 508 204.6 513 204.7 518 204.8 523 204.8 528 204.9 533 205.0 538 205.1 543 205.1 548 205.2 553 205.3 558 205.4 563 205.4 568 205.5 573 205.6 578 205.7 583 205.7 588 205.8 593 205.9 598 205.9 603 206.0 608 206.1 613 206.1 618 206.2 623 206.2 628 206.3 633 206.3 638 206.4 643 206.4 648 206.5 653 206.5 658 206.6 663 206.6 668 206.7 673 206.7 678 206.8 683 206.9 688 206.9 693 207.0 698 207.1 703 207.2 708 207.3 713 207.4 718 207.5 723 207.6 728 207.7 733 207.8 738 207.9 743 208.1 748 208.3 753 208.6 758 209.0 763 209.4 768 209.9 773 210.5 778 211.1 783 211.7 788 212.4 793 213.1 798 213.9 803 214.7 808 215.5 813 216.3 818 217.2 823 218.0 828 219.0 833 220.1 838 221.3 843 222.6 848 224.0 853 225.5 858 227.0 863 228.7 868 230.4 873 232.1 878 233.9 883 235.7 888 237.7 893 239.7 898 241.8 903 244.1 908 246.4 913 248.9 918 251.6 923 254.3 928 257.3 933 260.4 938 263.7 943 267.2 948 271.3 953 276.0 958 281.2 963 286.8 968 292.6 973 298.6 978 304.6 983 310.4 988 315.9 993 321.8 998 328.0 1003 334.3 1008 340.6 1013 346.6 1018 352.1 1023 356.9 1028 360.8 1033 364.1 1038 367.2 1043 370.2 1048 372.7 1053 374.7 1058 375.8 1063 375.9 1068 374.3 1073 371.2 1078 366.9 1083 361.8 1088 356.0 1093 346.8 1098 332.8 1103 316.8 1108 301.5 1113 288.1 1118 274.5 1123 261.4 1128 249.9 1133 240.4 1138 231.5 1143 223.6 1148 217.5 1153 214.3 1158 212.2 1163 210.4 1168 208.9 1173 207.6 1178 206.6 1183 206.0 1188 205.7 1193 205.7 1198 205.8 1203 206.0 1208 206.3 1213 206.6 1218 207.0 1223 207.4 1228 207.7 1233 208.1 1238 208.5 1243 208.8 1248 209.1 1253 209.4 1258 209.6 1263 209.7 1268 209.9 1273 210.1 1278 210.2 1283 210.4 1288 210.5 1293 210.6 1298 210.8 1303 210.9 1308 211.0 1313 211.1 1318 211.2 1323 211.3 1328 211.4 1333 211.5 1338 211.7 1343 211.8 1348 211.9 1353 212.0 1358 212.1 1363 212.2 1368 212.3 1373 212.4 1378 212.6 1383 212.7 1388 212.8 1393 213.0 1398 213.2 1403 213.3 1408 213.5 1413 213.7 1418 213.9 1423 214.1 1428 214.3 1433 214.6 1438 214.8 1443 215.1 1448 215.4 1453 215.6 1458 215.9 1463 216.3 1468 216.6 1473 216.9 1478 217.2 1483 217.6 1488 217.9 1493 218.2 1498 218.6 1503 218.9 1508 219.3 1513 219.6 1518 220.0 1523 220.3 1528 220.7 1533 221.1 1538 221.4 1543 221.8 1548 222.2 1553 222.6 1558 223.1 1563 223.5 1568 224.0 1573 224.5 1578 225.0 1583 225.5 1588 226.1 1593 226.7 1598 227.3 1603 227.9 1608 228.6 1613 229.4 1618 230.3 1623 231.3 1628 232.3 1633 233.5 1638 234.7 1643 235.9 1648 237.2 1653 238.6 1658 240.1 1663 241.6 1668 243.2 1673 244.9 1678 246.7 1683 248.8 1688 251.0 1693 253.3 1698 255.7 1703 258.3 1708 260.9 1713 263.6 1718 266.4 1723 269.2 1728 272.2 1733 275.4 1738 278.8 1743 282.3 1748 286.0 1753 289.6 1758 293.3 1763 297.0 1768 300.8 1773 304.9 1778 309.1 1783 313.3 1788 317.4 1793 321.3 1798 324.9 1803 328.0 1808 331.2 1813 334.2 1818 337.1 1823 339.6 1828 341.6 1833 342.8 1838 343.6 1843 344.3 1848 344.8 1853 345.0 1858 344.8 1863 344.3 1868 343.4 1873 342.1 1878 339.2 1883 335.2 1888 330.5 1893 325.3 1898 318.4 1903 310.0 1908 300.7 1913 291.1 1918 281.9 1923 272.8 1928 263.1 1933 253.9 1938 246.1 1943 240.0 1948 234.6 1953 229.7 1958 225.5 1963 221.9 1968 219.1 1973 216.5 1978 214.0 1983 211.8 1988 210.0 1993 208.8 1998 208.3 2003 208.3 2008 208.3 2013 208.3 2018 208.3 2023 208.3 2028 208.3 2033 208.3 2038 208.3 2043 208.3 2048 208.3 2050 208.3" fill="none" stroke="#bfbf00" stroke-width="14.5" stroke-linejoin="round" stroke-linecap="round"/>
<line x1="756" y1="855.2" x2="752" y2="1625" stroke="#ff0000" stroke-width="12" stroke-dasharray="54.3 15.6 54.3 15.6 54.3 46.2"/>
<rect x="191.5" y="2076.9" width="1856.5" height="1720.6" fill="none" stroke="#000" stroke-width="11.7"/>
<rect x="470.5" y="3769.0" width="11" height="28.5" fill="#000"/>
<rect x="756.1" y="3769.0" width="11" height="28.5" fill="#000"/>
<rect x="1041.7" y="3769.0" width="11" height="28.5" fill="#000"/>
<rect x="1327.3" y="3769.0" width="11" height="28.5" fill="#000"/>
<rect x="1612.9" y="3769.0" width="11" height="28.5" fill="#000"/>
<rect x="1898.5" y="3769.0" width="11" height="28.5" fill="#000"/>
<path d="M188 3583.5 193 3583.1 198 3582.7 203 3582.4 208 3582.0 213 3581.7 218 3581.4 223 3581.2 228 3581.0 233 3581.0 238 3581.0 243 3581.0 248 3581.0 253 3581.0 258 3581.0 263 3581.0 268 3581.0 273 3581.0 278 3581.0 283 3581.0 288 3581.0 293 3581.0 298 3581.0 303 3581.0 308 3581.0 313 3581.0 318 3581.0 323 3581.0 328 3581.0 333 3581.0 338 3581.0 343 3581.0 348 3581.0 353 3581.0 358 3581.0 363 3581.0 368 3581.0 373 3581.0 378 3581.0 383 3581.0 388 3581.1 393 3581.3 398 3581.6 403 3582.0 408 3582.6 413 3583.1 418 3583.8 423 3584.4 428 3585.1 433 3585.8 438 3586.7 443 3587.7 448 3588.9 453 3590.2 458 3591.6 463 3593.0 468 3594.6 473 3596.5 478 3598.6 483 3600.7 488 3602.8 493 3604.8 498 3606.6 503 3608.5 508 3610.5 513 3612.3 518 3613.7 523 3614.5 528 3614.6 533 3614.7 538 3614.7 543 3614.8 548 3614.8 553 3614.8 558 3614.7 563 3614.0 568 3612.8 573 3611.3 578 3609.3 583 3606.5 588 3603.5 593 3601.1 598 3599.1 603 3597.0 608 3594.4 613 3591.0 618 3587.0 623 3582.5 628 3577.6 633 3572.4 638 3567.2 643 3562.0 648 3556.9 653 3551.6 658 3546.1 663 3540.4 668 3534.6 673 3528.7 678 3522.5 683 3516.2 688 3509.8 693 3503.1 698 3496.1 703 3488.8 708 3481.0 713 3472.5 718 3463.3 723 3453.7 728 3443.8 733 3433.9 738 3424.2 743 3414.4 748 3404.5 753 3394.5 758 3384.4 763 3374.1 768 3363.6 773 3352.9 778 3342.1 783 3331.4 788 3320.8 793 3310.2 798 3299.5 803 3288.9 808 3278.5 813 3268.7 818 3259.5 823 3250.6 828 3242.1 833 3234.3 838 3227.1 843 3219.8 848 3213.7 853 3210.7 858 3209.3 863 3208.6 868 3208.7 873 3209.8 878 3211.6 883 3214.6 888 3219.8 893 3225.8 898 3233.4 903 3241.0 908 3247.5 913 3253.6 918 3260.2 923 3268.2 928 3279.2 933 3293.9 938 3309.3 943 3323.1 948 3336.3 953 3349.7 958 3363.9 963 3379.6 968 3395.2 973 3408.4 978 3419.3 983 3429.1 988 3438.5 993 3448.0 998 3458.2 1003 3468.6 1008 3478.7 1013 3488.1 1018 3496.4 1023 3504.4 1028 3511.9 1033 3518.8 1038 3525.1 1043 3530.6 1048 3535.5 1053 3540.0 1058 3544.1 1063 3548.0 1068 3551.7 1073 3555.2 1078 3558.6 1083 3561.9 1088 3565.1 1093 3568.1 1098 3571.0 1103 3573.6 1108 3575.8 1113 3577.7 1118 3579.5 1123 3581.2 1128 3582.7 1133 3584.2 1138 3585.5 1143 3586.6 1148 3587.7 1153 3588.5 1158 3589.2 1163 3590.0 1168 3590.6 1173 3591.2 1178 3591.8 1183 3592.3 1188 3592.8 1193 3593.2 1198 3593.6 1203 3593.8 1208 3594.0 1213 3594.2 1218 3594.4 1223 3594.5 1228 3594.7 1233 3594.8 1238 3594.9 1243 3595.1 1248 3595.2 1253 3595.3 1258 3595.4 1263 3595.4 1268 3595.5 1273 3595.5 1278 3595.6 1283 3595.6 1288 3595.6 1293 3595.6 1298 3595.6 1303 3595.6 1308 3595.6 1313 3595.6 1318 3595.6 1323 3595.6 1328 3595.6 1333 3595.6 1338 3595.6 1343 3595.6 1348 3595.6 1353 3595.6 1358 3595.6 1363 3595.6 1368 3595.6 1373 3595.6 1378 3595.6 1383 3595.6 1388 3595.6 1393 3595.6 1398 3595.6 1403 3595.6 1408 3595.6 1413 3595.6 1418 3595.6 1423 3595.6 1428 3595.6 1433 3595.6 1438 3595.6 1443 3595.6 1448 3595.6 1453 3595.6 1458 3595.6 1463 3595.6 1468 3595.6 1473 3595.6 1478 3595.6 1483 3595.6 1488 3595.6 1493 3595.6 1498 3595.6 1503 3595.6 1508 3595.6 1513 3595.6 1518 3595.6 1523 3595.6 1528 3595.6 1533 3595.6 1538 3595.6 1543 3595.6 1548 3595.6 1553 3595.6 1558 3595.6 1563 3595.6 1568 3595.6 1573 3595.6 1578 3595.6 1583 3595.6 1588 3595.6 1593 3595.6 1598 3595.6 1603 3595.6 1608 3595.6 1613 3595.6 1618 3595.6 1623 3595.6 1628 3595.6 1633 3595.6 1638 3595.6 1643 3595.6 1648 3595.6 1653 3595.6 1658 3595.6 1663 3595.6 1668 3595.6 1673 3595.6 1678 3595.6 1683 3595.6 1688 3595.6 1693 3595.6 1698 3595.6 1703 3595.6 1708 3595.6 1713 3595.6 1718 3595.6 1723 3595.6 1728 3595.6 1733 3595.6 1738 3595.6 1743 3595.6 1748 3595.6 1753 3595.6 1758 3595.6 1763 3595.6 1768 3595.6 1773 3595.6 1778 3595.6 1783 3595.6 1788 3595.6 1793 3595.6 1798 3595.6 1803 3595.6 1808 3595.6 1813 3595.6 1818 3595.6 1823 3595.6 1828 3595.6 1833 3595.6 1838 3595.6 1843 3595.6 1848 3595.6 1853 3595.6 1858 3595.6 1863 3595.6 1868 3595.6 1873 3595.6 1878 3595.6 1883 3595.6 1888 3595.6 1893 3595.6 1898 3594.8 1903 3592.4 1908 3592.0 1913 3592.0 1918 3592.0 1923 3592.0 1928 3592.0 1933 3592.0 1938 3592.0 1943 3592.0 1948 3592.0 1953 3592.0 1958 3592.0 1963 3592.0 1968 3592.0 1973 3592.0 1978 3592.0 1983 3592.0 1988 3592.0 1993 3592.0 1998 3592.0 2003 3592.0 2008 3592.0 2013 3592.0 2018 3592.0 2023 3592.0 2028 3592.0 2033 3592.0 2038 3592.0 2043 3592.0 2048 3592.0 2050 3592.0" fill="none" stroke="#ff0000" stroke-width="14.5" stroke-linejoin="round" stroke-linecap="round"/>
<path d="M188 3400.4 193 3400.0 198 3399.7 203 3399.4 208 3399.0 213 3398.7 218 3398.4 223 3398.1 228 3397.8 233 3397.4 238 3397.1 243 3396.8 248 3396.5 253 3396.2 258 3395.9 263 3395.6 268 3395.3 273 3395.1 278 3394.8 283 3394.5 288 3394.2 293 3394.0 298 3393.7 303 3393.5 308 3393.2 313 3393.0 318 3392.7 323 3392.5 328 3392.3 333 3392.0 338 3391.8 343 3391.6 348 3391.4 353 3391.2 358 3391.0 363 3390.8 368 3390.6 373 3390.4 378 3390.2 383 3390.0 388 3389.8 393 3389.6 398 3389.4 403 3389.2 408 3389.0 413 3388.8 418 3388.6 423 3388.3 428 3388.1 433 3387.8 438 3387.6 443 3387.3 448 3387.1 453 3386.8 458 3386.5 463 3386.2 468 3385.9 473 3385.6 478 3385.2 483 3384.8 488 3384.4 493 3383.9 498 3383.4 503 3382.8 508 3382.2 513 3381.7 518 3381.1 523 3380.7 528 3380.3 533 3379.9 538 3379.5 543 3379.2 548 3378.8 553 3378.5 558 3378.2 563 3377.9 568 3377.5 573 3377.2 578 3376.9 583 3376.5 588 3376.2 593 3375.8 598 3375.4 603 3374.9 608 3374.5 613 3374.1 618 3373.6 623 3373.2 628 3372.7 633 3372.2 638 3371.8 643 3371.3 648 3370.8 653 3370.3 658 3369.8 663 3369.3 668 3368.8 673 3368.3 678 3367.8 683 3367.3 688 3366.7 693 3366.2 698 3365.7 703 3365.2 708 3364.7 713 3364.1 718 3363.6 723 3363.1 728 3362.5 733 3362.0 738 3361.4 743 3360.9 748 3360.3 753 3359.8 758 3359.2 763 3358.6 768 3358.1 773 3357.5 778 3356.9 783 3356.3 788 3355.7 793 3355.1 798 3354.5 803 3353.9 808 3353.3 813 3352.7 818 3352.1 823 3351.5 828 3351.0 833 3350.3 838 3349.7 843 3349.1 848 3348.5 853 3347.8 858 3347.2 863 3346.5 868 3345.8 873 3345.1 878 3344.3 883 3343.5 888 3342.7 893 3341.9 898 3341.0 903 3340.1 908 3339.1 913 3338.2 918 3337.2 923 3336.2 928 3335.1 933 3334.1 938 3333.0 943 3331.9 948 3330.8 953 3329.6 958 3328.5 963 3327.3 968 3326.1 973 3324.8 978 3323.5 983 3322.2 988 3320.9 993 3319.5 998 3318.0 1003 3316.6 1008 3315.1 1013 3313.6 1018 3312.1 1023 3310.5 1028 3308.9 1033 3307.3 1038 3305.7 1043 3304.0 1048 3302.3 1053 3300.5 1058 3298.8 1063 3296.9 1068 3295.1 1073 3293.2 1078 3291.2 1083 3289.2 1088 3287.1 1093 3284.9 1098 3282.7 1103 3280.5 1108 3278.1 1113 3275.7 1118 3273.2 1123 3270.6 1128 3268.0 1133 3265.2 1138 3262.3 1143 3259.3 1148 3256.2 1153 3253.0 1158 3249.7 1163 3246.1 1168 3242.3 1173 3238.3 1178 3234.1 1183 3229.8 1188 3225.3 1193 3220.7 1198 3215.9 1203 3211.1 1208 3206.1 1213 3201.1 1218 3195.8 1223 3190.3 1228 3184.6 1233 3178.7 1238 3172.5 1243 3166.0 1248 3159.1 1253 3151.6 1258 3143.7 1263 3135.4 1268 3126.8 1273 3118.0 1278 3109.1 1283 3100.1 1288 3090.9 1293 3081.4 1298 3071.6 1303 3061.4 1308 3050.6 1313 3039.1 1318 3026.9 1323 3013.7 1328 2999.8 1333 2985.2 1338 2969.9 1343 2953.8 1348 2936.4 1353 2918.2 1358 2899.5 1363 2880.4 1368 2860.1 1373 2839.5 1378 2819.8 1383 2802.0 1388 2786.3 1393 2771.5 1398 2756.6 1403 2740.2 1408 2722.0 1413 2703.9 1418 2688.1 1423 2673.4 1428 2659.5 1433 2647.3 1438 2638.0 1443 2630.7 1448 2624.2 1453 2619.0 1458 2615.5 1463 2613.4 1468 2611.7 1473 2610.4 1478 2609.7 1483 2609.9 1488 2611.4 1493 2613.9 1498 2617.2 1503 2620.8 1508 2626.3 1513 2633.9 1518 2642.6 1523 2651.3 1528 2659.9 1533 2669.0 1538 2678.6 1543 2688.5 1548 2698.8 1553 2709.5 1558 2720.7 1563 2732.5 1568 2744.5 1573 2756.6 1578 2768.9 1583 2781.4 1588 2794.2 1593 2807.2 1598 2820.4 1603 2833.8 1608 2847.7 1613 2862.3 1618 2878.2 1623 2895.4 1628 2913.2 1633 2931.2 1638 2948.7 1643 2966.0 1648 2983.5 1653 3001.1 1658 3019.2 1663 3037.9 1668 3056.9 1673 3076.0 1678 3095.0 1683 3114.0 1688 3133.3 1693 3152.1 1698 3169.9 1703 3186.6 1708 3202.7 1713 3218.0 1718 3231.9 1723 3244.2 1728 3255.2 1733 3265.3 1738 3274.6 1743 3283.3 1748 3291.7 1753 3299.5 1758 3306.8 1763 3313.1 1768 3318.7 1773 3323.9 1778 3328.8 1783 3333.2 1788 3337.4 1793 3341.2 1798 3344.8 1803 3348.2 1808 3351.4 1813 3354.5 1818 3357.4 1823 3360.0 1828 3362.3 1833 3364.4 1838 3366.3 1843 3368.0 1848 3369.7 1853 3371.2 1858 3372.5 1863 3373.7 1868 3374.7 1873 3375.4 1878 3376.1 1883 3376.8 1888 3377.4 1893 3377.9 1898 3378.4 1903 3378.9 1908 3379.3 1913 3379.7 1918 3380.0 1923 3380.4 1928 3380.7 1933 3381.0 1938 3381.3 1943 3381.6 1948 3381.9 1953 3382.2 1958 3382.5 1963 3382.8 1968 3383.1 1973 3383.4 1978 3383.6 1983 3383.9 1988 3384.1 1993 3384.4 1998 3384.6 2003 3384.8 2008 3385.0 2013 3385.2 2018 3385.4 2023 3385.5 2028 3385.6 2033 3385.7 2038 3385.8 2043 3385.9 2048 3386.0 2050 3386.0" fill="none" stroke="#ff8000" stroke-width="14.5" stroke-linejoin="round" stroke-linecap="round"/>
<path d="M188 3222.1 193 3221.8 198 3221.5 203 3221.2 208 3220.9 213 3220.6 218 3220.3 223 3220.0 228 3219.6 233 3219.3 238 3219.0 243 3218.7 248 3218.4 253 3218.0 258 3217.7 263 3217.4 268 3217.1 273 3216.8 278 3216.4 283 3216.1 288 3215.8 293 3215.4 298 3215.1 303 3214.8 308 3214.5 313 3214.1 318 3213.8 323 3213.4 328 3213.1 333 3212.8 338 3212.4 343 3212.1 348 3211.7 353 3211.4 358 3211.1 363 3210.7 368 3210.4 373 3210.0 378 3209.7 383 3209.3 388 3209.0 393 3208.7 398 3208.4 403 3208.1 408 3207.8 413 3207.4 418 3207.0 423 3206.6 428 3206.1 433 3205.6 438 3205.0 443 3204.2 448 3203.2 453 3202.1 458 3200.9 463 3199.8 468 3198.6 473 3197.5 478 3196.6 483 3195.7 488 3194.8 493 3193.8 498 3192.9 503 3192.0 508 3191.3 513 3190.7 518 3190.3 523 3190.2 528 3190.6 533 3191.4 538 3192.6 543 3194.1 548 3195.6 553 3197.1 558 3198.5 563 3200.2 568 3202.1 573 3204.1 578 3205.9 583 3207.4 588 3208.5 593 3208.9 598 3209.2 603 3209.5 608 3209.7 613 3209.9 618 3210.1 623 3210.3 628 3210.4 633 3210.5 638 3210.6 643 3210.7 648 3210.7 653 3210.4 658 3208.9 663 3206.3 668 3203.0 673 3199.2 678 3195.1 683 3191.1 688 3187.3 693 3183.4 698 3179.3 703 3174.9 708 3170.3 713 3165.3 718 3160.2 723 3154.7 728 3148.9 733 3142.6 738 3135.8 743 3128.6 748 3120.8 753 3112.6 758 3103.4 763 3093.4 768 3083.0 773 3072.5 778 3062.2 783 3051.8 788 3041.2 793 3030.6 798 3020.5 803 3011.2 808 3002.8 813 2994.7 818 2987.3 823 2980.6 828 2975.0 833 2969.6 838 2964.9 843 2961.0 848 2958.4 853 2956.3 858 2954.7 863 2953.7 868 2953.8 873 2955.7 878 2958.8 883 2962.1 888 2966.4 893 2971.6 898 2977.4 903 2983.5 908 2989.6 913 2996.0 918 3002.9 923 3010.0 928 3017.4 933 3024.9 938 3032.6 943 3040.7 948 3048.9 953 3057.1 958 3065.0 963 3072.5 968 3080.0 973 3087.3 978 3094.4 983 3101.0 988 3107.0 993 3112.7 998 3118.0 1003 3123.1 1008 3128.0 1013 3132.6 1018 3137.0 1023 3141.3 1028 3145.7 1033 3150.0 1038 3153.9 1043 3157.4 1048 3160.3 1053 3162.6 1058 3164.7 1063 3166.6 1068 3168.2 1073 3169.3 1078 3169.6 1083 3169.6 1088 3169.6 1093 3169.6 1098 3169.6 1103 3169.6 1108 3169.6 1113 3169.6 1118 3169.6 1123 3169.6 1128 3169.6 1133 3169.6 1138 3169.6 1143 3169.6 1148 3169.6 1153 3169.6 1158 3169.6 1163 3169.6 1168 3169.6 1173 3169.2 1178 3168.2 1183 3166.7 1188 3164.7 1193 3162.4 1198 3160.0 1203 3157.4 1208 3154.9 1213 3152.6 1218 3150.0 1223 3147.3 1228 3144.5 1233 3141.4 1238 3138.1 1243 3134.7 1248 3131.1 1253 3127.4 1258 3123.3 1263 3118.9 1268 3114.0 1273 3108.9 1278 3103.6 1283 3098.2 1288 3092.7 1293 3087.2 1298 3081.9 1303 3076.6 1308 3071.3 1313 3066.0 1318 3060.5 1323 3054.8 1328 3048.7 1333 3042.3 1338 3035.3 1343 3027.7 1348 3019.6 1353 3011.1 1358 3002.4 1363 2993.2 1368 2983.0 1373 2972.6 1378 2962.5 1383 2953.6 1388 2944.8 1393 2936.3 1398 2929.1 1403 2924.0 1408 2920.3 1413 2917.0 1418 2914.6 1423 2913.4 1428 2913.4 1433 2913.6 1438 2913.9 1443 2914.5 1448 2916.6 1453 2919.7 1458 2923.6 1463 2927.8 1468 2931.8 1473 2935.9 1478 2940.3 1483 2945.2 1488 2950.7 1493 2956.6 1498 2963.3 1503 2971.6 1508 2981.4 1513 2992.1 1518 3003.1 1523 3014.0 1528 3024.8 1533 3036.1 1538 3047.5 1543 3058.8 1548 3069.5 1553 3079.4 1558 3089.2 1563 3098.6 1568 3107.6 1573 3115.9 1578 3123.3 1583 3130.1 1588 3136.3 1593 3142.2 1598 3147.8 1603 3153.1 1608 3158.3 1613 3163.4 1618 3168.4 1623 3173.1 1628 3177.5 1633 3181.3 1638 3184.6 1643 3187.6 1648 3190.5 1653 3193.1 1658 3195.6 1663 3197.9 1668 3200.1 1673 3202.1 1678 3204.0 1683 3205.8 1688 3207.6 1693 3209.2 1698 3210.8 1703 3212.3 1708 3213.7 1713 3214.9 1718 3216.0 1723 3216.9 1728 3217.7 1733 3218.5 1738 3219.3 1743 3219.9 1748 3220.6 1753 3221.1 1758 3221.6 1763 3222.0 1768 3222.3 1773 3222.6 1778 3223.0 1783 3223.3 1788 3223.6 1793 3223.8 1798 3224.1 1803 3224.3 1808 3224.6 1813 3224.8 1818 3225.0 1823 3225.1 1828 3225.3 1833 3225.4 1838 3225.5 1843 3225.6 1848 3225.7 1853 3225.7 1858 3225.8 1863 3225.8 1868 3225.9 1873 3226.0 1878 3226.0 1883 3226.1 1888 3226.1 1893 3226.2 1898 3226.2 1903 3226.3 1908 3226.3 1913 3226.4 1918 3226.4 1923 3226.4 1928 3226.5 1933 3226.5 1938 3226.6 1943 3226.6 1948 3226.6 1953 3226.7 1958 3226.7 1963 3226.7 1968 3226.8 1973 3226.8 1978 3226.8 1983 3226.8 1988 3226.9 1993 3226.9 1998 3226.9 2003 3226.9 2008 3226.9 2013 3226.9 2018 3227.0 2023 3227.0 2028 3227.0 2033 3227.0 2038 3227.0 2043 3227.0 2048 3227.0 2050 3227.0" fill="none" stroke="#0000ff" stroke-width="14.5" stroke-linejoin="round" stroke-linecap="round"/>
<path d="M188 3038.6 193 3038.4 198 3038.1 203 3037.9 208 3037.7 213 3037.5 218 3037.3 223 3037.0 228 3036.8 233 3036.6 238 3036.4 243 3036.1 248 3035.9 253 3035.6 258 3035.4 263 3035.1 268 3034.9 273 3034.6 278 3034.4 283 3034.1 288 3033.9 293 3033.6 298 3033.3 303 3033.1 308 3032.8 313 3032.5 318 3032.3 323 3032.0 328 3031.7 333 3031.5 338 3031.2 343 3031.0 348 3030.7 353 3030.4 358 3030.1 363 3029.9 368 3029.6 373 3029.3 378 3029.0 383 3028.7 388 3028.4 393 3028.1 398 3027.7 403 3027.4 408 3027.0 413 3026.7 418 3026.3 423 3025.9 428 3025.5 433 3025.1 438 3024.6 443 3024.2 448 3023.6 453 3023.1 458 3022.5 463 3021.9 468 3021.2 473 3020.6 478 3019.9 483 3019.2 488 3018.5 493 3017.7 498 3017.0 503 3016.2 508 3015.5 513 3014.7 518 3013.9 523 3013.1 528 3012.3 533 3011.6 538 3010.9 543 3010.2 548 3009.4 553 3008.6 558 3007.8 563 3006.8 568 3005.7 573 3004.5 578 3003.1 583 3001.3 588 2999.1 593 2996.6 598 2993.7 603 2990.6 608 2987.3 613 2982.9 618 2977.4 623 2971.7 628 2966.3 633 2961.9 638 2958.7 643 2955.9 648 2953.5 653 2951.2 658 2948.9 663 2946.6 668 2944.1 673 2941.6 678 2939.3 683 2937.2 688 2935.6 693 2934.6 698 2934.0 703 2933.4 708 2932.9 713 2932.5 718 2932.1 723 2931.7 728 2931.4 733 2931.0 738 2930.7 743 2930.3 748 2929.9 753 2929.7 758 2929.4 763 2929.1 768 2928.8 773 2928.5 778 2928.0 783 2927.5 788 2926.8 793 2925.1 798 2921.7 803 2917.3 808 2912.3 813 2907.3 818 2902.5 823 2897.2 828 2891.5 833 2885.7 838 2880.0 843 2874.6 848 2869.4 853 2864.2 858 2859.0 863 2854.0 868 2849.0 873 2844.3 878 2839.7 883 2835.4 888 2830.9 893 2826.6 898 2822.6 903 2819.3 908 2816.8 913 2814.7 918 2812.7 923 2811.0 928 2809.9 933 2809.4 938 2809.4 943 2809.4 948 2809.4 953 2809.6 958 2810.5 963 2811.9 968 2813.8 973 2816.0 978 2818.4 983 2820.8 988 2823.8 993 2827.5 998 2831.8 1003 2836.4 1008 2841.3 1013 2846.3 1018 2851.6 1023 2857.6 1028 2864.1 1033 2870.7 1038 2877.4 1043 2883.8 1048 2890.0 1053 2896.2 1058 2902.4 1063 2908.5 1068 2914.3 1073 2919.7 1078 2924.5 1083 2929.0 1088 2933.2 1093 2937.2 1098 2940.9 1103 2944.3 1108 2947.2 1113 2949.8 1118 2952.4 1123 2954.8 1128 2957.1 1133 2959.1 1138 2960.7 1143 2961.9 1148 2962.6 1153 2963.1 1158 2963.6 1163 2964.0 1168 2964.3 1173 2964.6 1178 2964.8 1183 2964.9 1188 2965.0 1193 2965.0 1198 2964.8 1203 2964.6 1208 2964.2 1213 2963.8 1218 2963.3 1223 2962.7 1228 2962.0 1233 2961.4 1238 2960.3 1243 2958.8 1248 2956.8 1253 2954.6 1258 2952.1 1263 2949.5 1268 2946.7 1273 2943.9 1278 2941.1 1283 2938.0 1288 2934.7 1293 2931.1 1298 2927.3 1303 2923.3 1308 2919.1 1313 2914.8 1318 2910.4 1323 2905.8 1328 2901.0 1333 2895.8 1338 2890.5 1343 2884.9 1348 2879.3 1353 2873.5 1358 2867.7 1363 2861.8 1368 2855.5 1373 2849.0 1378 2842.4 1383 2835.8 1388 2829.6 1393 2823.9 1398 2818.4 1403 2813.0 1408 2807.8 1413 2803.1 1418 2798.8 1423 2794.9 1428 2791.0 1433 2787.5 1438 2784.4 1443 2781.9 1448 2780.3 1453 2778.8 1458 2777.5 1463 2776.6 1468 2776.0 1473 2776.1 1478 2776.7 1483 2777.6 1488 2778.9 1493 2780.3 1498 2781.9 1503 2784.3 1508 2787.4 1513 2791.2 1518 2795.4 1523 2799.9 1528 2804.4 1533 2809.0 1538 2814.0 1543 2819.3 1548 2825.0 1553 2831.1 1558 2837.6 1563 2844.5 1568 2852.5 1573 2861.2 1578 2870.2 1583 2879.2 1588 2887.8 1593 2896.1 1598 2904.4 1603 2912.5 1608 2920.5 1613 2928.0 1618 2935.3 1623 2942.5 1628 2949.5 1633 2956.2 1638 2962.6 1643 2968.6 1648 2974.2 1653 2979.4 1658 2984.5 1663 2989.2 1668 2993.7 1673 2997.8 1678 3001.5 1683 3005.0 1688 3008.2 1693 3011.4 1698 3014.3 1703 3017.1 1708 3019.7 1713 3022.1 1718 3024.3 1723 3026.4 1728 3028.3 1733 3030.1 1738 3031.8 1743 3033.5 1748 3035.0 1753 3036.3 1758 3037.6 1763 3038.7 1768 3039.7 1773 3040.7 1778 3041.6 1783 3042.5 1788 3043.3 1793 3044.0 1798 3044.7 1803 3045.4 1808 3046.0 1813 3046.5 1818 3046.9 1823 3047.3 1828 3047.7 1833 3048.1 1838 3048.4 1843 3048.8 1848 3049.1 1853 3049.5 1858 3049.8 1863 3050.0 1868 3050.3 1873 3050.5 1878 3050.7 1883 3050.8 1888 3050.9 1893 3051.0 1898 3051.0 1903 3051.0 1908 3051.0 1913 3051.0 1918 3051.0 1923 3051.0 1928 3051.0 1933 3051.0 1938 3051.0 1943 3051.0 1948 3051.0 1953 3051.0 1958 3051.0 1963 3051.0 1968 3051.0 1973 3051.0 1978 3051.0 1983 3051.0 1988 3051.0 1993 3051.0 1998 3051.0 2003 3051.0 2008 3051.0 2013 3051.0 2018 3051.0 2023 3051.0 2028 3051.0 2033 3051.0 2038 3051.0 2043 3051.0 2048 3051.0 2050 3051.0" fill="none" stroke="#008000" stroke-width="14.5" stroke-linejoin="round" stroke-linecap="round"/>
<path d="M188 2855.8 193 2855.6 198 2855.4 203 2855.2 208 2855.0 213 2854.8 218 2854.5 223 2854.3 228 2854.1 233 2853.9 238 2853.6 243 2853.4 248 2853.1 253 2852.9 258 2852.6 263 2852.4 268 2852.1 273 2851.8 278 2851.5 283 2851.3 288 2851.0 293 2850.7 298 2850.4 303 2850.1 308 2849.8 313 2849.5 318 2849.2 323 2848.9 328 2848.6 333 2848.3 338 2848.0 343 2847.7 348 2847.3 353 2847.0 358 2846.6 363 2846.3 368 2845.9 373 2845.5 378 2845.2 383 2844.8 388 2844.4 393 2844.0 398 2843.6 403 2843.2 408 2842.8 413 2842.4 418 2841.9 423 2841.5 428 2841.0 433 2840.6 438 2840.1 443 2839.6 448 2839.2 453 2838.6 458 2838.1 463 2837.6 468 2837.0 473 2836.5 478 2835.9 483 2835.3 488 2834.7 493 2834.1 498 2833.4 503 2832.8 508 2832.2 513 2831.5 518 2830.8 523 2830.1 528 2829.4 533 2828.7 538 2827.9 543 2827.1 548 2826.2 553 2825.3 558 2824.4 563 2823.5 568 2822.7 573 2821.8 578 2820.9 583 2820.1 588 2819.3 593 2818.5 598 2817.8 603 2817.0 608 2816.2 613 2815.4 618 2814.7 623 2814.0 628 2813.5 633 2813.0 638 2812.7 643 2812.4 648 2812.2 653 2811.9 658 2811.7 663 2811.6 668 2811.4 673 2811.3 678 2811.1 683 2811.0 688 2810.8 693 2810.7 698 2810.5 703 2810.3 708 2810.0 713 2809.8 718 2809.4 723 2809.1 728 2808.6 733 2807.9 738 2807.0 743 2805.9 748 2804.6 753 2803.2 758 2801.7 763 2800.1 768 2798.3 773 2796.3 778 2793.7 783 2790.9 788 2787.7 793 2784.4 798 2781.0 803 2777.7 808 2774.3 813 2770.7 818 2767.0 823 2763.1 828 2759.2 833 2755.3 838 2751.4 843 2747.5 848 2743.5 853 2739.4 858 2735.4 863 2731.3 868 2727.3 873 2723.3 878 2719.5 883 2715.7 888 2711.6 893 2707.4 898 2703.3 903 2699.4 908 2696.1 913 2693.5 918 2691.7 923 2690.4 928 2689.2 933 2688.2 938 2687.3 943 2686.5 948 2685.9 953 2685.5 958 2685.2 963 2685.0 968 2684.7 973 2684.5 978 2684.3 983 2684.2 988 2684.1 993 2684.0 998 2684.0 1003 2684.4 1008 2685.2 1013 2686.5 1018 2688.1 1023 2689.9 1028 2692.0 1033 2694.1 1038 2696.2 1043 2698.3 1048 2700.8 1053 2703.6 1058 2706.6 1063 2709.9 1068 2713.2 1073 2716.6 1078 2719.9 1083 2723.1 1088 2726.3 1093 2729.7 1098 2733.1 1103 2736.5 1108 2739.8 1113 2743.0 1118 2745.9 1123 2748.6 1128 2751.3 1133 2754.0 1138 2756.6 1143 2759.1 1148 2761.4 1153 2763.5 1158 2765.3 1163 2766.8 1168 2768.1 1173 2769.3 1178 2770.5 1183 2771.5 1188 2772.5 1193 2773.3 1198 2774.0 1203 2774.5 1208 2774.9 1213 2775.2 1218 2775.4 1223 2775.6 1228 2775.8 1233 2775.8 1238 2775.6 1243 2775.0 1248 2774.3 1253 2773.3 1258 2772.2 1263 2771.0 1268 2769.8 1273 2768.5 1278 2766.8 1283 2764.9 1288 2762.8 1293 2760.4 1298 2758.0 1303 2755.4 1308 2752.9 1313 2750.2 1318 2747.3 1323 2744.3 1328 2741.1 1333 2737.8 1338 2734.3 1343 2730.7 1348 2727.0 1353 2722.9 1358 2718.6 1363 2714.1 1368 2709.5 1373 2704.8 1378 2700.2 1383 2695.6 1388 2691.1 1393 2686.5 1398 2681.8 1403 2677.0 1408 2672.2 1413 2667.7 1418 2663.5 1423 2659.7 1428 2656.4 1433 2653.3 1438 2650.4 1443 2647.6 1448 2645.1 1453 2642.8 1458 2640.9 1463 2639.4 1468 2638.3 1473 2637.2 1478 2636.2 1483 2635.3 1488 2634.6 1493 2634.0 1498 2633.7 1503 2633.6 1508 2633.6 1513 2633.6 1518 2633.6 1523 2633.6 1528 2633.8 1533 2634.4 1538 2635.3 1543 2636.4 1548 2637.7 1553 2639.2 1558 2640.7 1563 2642.3 1568 2644.3 1573 2646.7 1578 2649.4 1583 2652.5 1588 2655.8 1593 2659.3 1598 2663.0 1603 2667.2 1608 2672.0 1613 2677.4 1618 2683.0 1623 2688.9 1628 2694.7 1633 2700.5 1638 2706.5 1643 2712.7 1648 2719.0 1653 2725.4 1658 2731.6 1663 2737.6 1668 2743.3 1673 2748.8 1678 2754.2 1683 2759.6 1688 2764.8 1693 2769.9 1698 2774.8 1703 2779.4 1708 2783.7 1713 2787.8 1718 2791.7 1723 2795.4 1728 2798.9 1733 2802.3 1738 2805.6 1743 2808.7 1748 2811.8 1753 2814.7 1758 2817.6 1763 2820.5 1768 2823.3 1773 2826.0 1778 2828.6 1783 2831.0 1788 2833.2 1793 2835.1 1798 2836.8 1803 2838.4 1808 2840.0 1813 2841.5 1818 2842.8 1823 2844.1 1828 2845.2 1833 2846.3 1838 2847.2 1843 2847.9 1848 2848.6 1853 2849.2 1858 2849.8 1863 2850.4 1868 2850.9 1873 2851.5 1878 2852.0 1883 2852.4 1888 2852.8 1893 2853.2 1898 2853.6 1903 2853.9 1908 2854.2 1913 2854.4 1918 2854.6 1923 2854.7 1928 2854.8 1933 2854.9 1938 2855.0 1943 2855.0 1948 2855.1 1953 2855.2 1958 2855.3 1963 2855.3 1968 2855.4 1973 2855.5 1978 2855.5 1983 2855.6 1988 2855.6 1993 2855.7 1998 2855.7 2003 2855.8 2008 2855.8 2013 2855.9 2018 2855.9 2023 2855.9 2028 2855.9 2033 2856.0 2038 2856.0 2043 2856.0 2048 2856.0 2050 2856.0" fill="none" stroke="#008080" stroke-width="14.5" stroke-linejoin="round" stroke-linecap="round"/>
<path d="M188 2667.1 193 2666.9 198 2666.6 203 2666.3 208 2666.0 213 2665.7 218 2665.4 223 2665.1 228 2664.8 233 2664.5 238 2664.2 243 2663.9 248 2663.6 253 2663.3 258 2663.0 263 2662.8 268 2662.5 273 2662.2 278 2661.9 283 2661.6 288 2661.3 293 2661.0 298 2660.7 303 2660.4 308 2660.1 313 2659.9 318 2659.6 323 2659.3 328 2659.1 333 2658.8 338 2658.5 343 2658.3 348 2658.0 353 2657.7 358 2657.5 363 2657.2 368 2656.9 373 2656.6 378 2656.4 383 2656.1 388 2655.8 393 2655.5 398 2655.2 403 2654.9 408 2654.5 413 2654.2 418 2653.9 423 2653.5 428 2653.2 433 2652.8 438 2652.4 443 2652.1 448 2651.7 453 2651.3 458 2650.9 463 2650.4 468 2650.0 473 2649.5 478 2649.0 483 2648.5 488 2647.9 493 2647.3 498 2646.6 503 2645.8 508 2645.0 513 2644.1 518 2643.0 523 2641.9 528 2640.8 533 2639.5 538 2638.2 543 2636.9 548 2635.4 553 2633.9 558 2632.3 563 2630.5 568 2628.3 573 2626.0 578 2623.6 583 2621.2 588 2618.9 593 2616.7 598 2614.5 603 2612.2 608 2610.0 613 2607.7 618 2605.6 623 2603.6 628 2601.8 633 2600.2 638 2598.7 643 2597.2 648 2595.8 653 2594.4 658 2593.0 663 2591.8 668 2590.7 673 2589.7 678 2588.9 683 2588.3 688 2587.9 693 2587.7 698 2587.4 703 2587.3 708 2587.1 713 2587.0 718 2586.9 723 2586.7 728 2586.6 733 2586.4 738 2586.1 743 2585.8 748 2585.5 753 2585.0 758 2584.5 763 2583.9 768 2583.3 773 2582.5 778 2581.6 783 2580.6 788 2579.5 793 2577.7 798 2574.8 803 2571.2 808 2567.1 813 2562.8 818 2558.6 823 2554.6 828 2550.3 833 2545.7 838 2541.1 843 2536.7 848 2532.5 853 2528.9 858 2525.6 863 2522.5 868 2519.5 873 2516.9 878 2514.5 883 2512.3 888 2510.3 893 2508.4 898 2506.6 903 2505.1 908 2503.8 913 2502.8 918 2501.9 923 2501.1 928 2500.3 933 2499.7 938 2499.1 943 2498.8 948 2498.6 953 2498.7 958 2499.2 963 2499.9 968 2500.8 973 2502.0 978 2503.2 983 2504.6 988 2506.0 993 2507.8 998 2510.0 1003 2512.7 1008 2515.6 1013 2518.8 1018 2522.1 1023 2525.4 1028 2528.7 1033 2532.0 1038 2535.6 1043 2539.5 1048 2543.4 1053 2547.5 1058 2551.4 1063 2555.3 1068 2558.9 1073 2562.2 1078 2565.5 1083 2568.8 1088 2572.0 1093 2575.1 1098 2578.0 1103 2580.7 1108 2583.0 1113 2585.0 1118 2586.6 1123 2588.2 1128 2589.7 1133 2591.2 1138 2592.4 1143 2593.5 1148 2594.3 1153 2594.8 1158 2595.0 1163 2595.0 1168 2595.0 1173 2595.0 1178 2595.0 1183 2595.0 1188 2595.0 1193 2595.0 1198 2595.0 1203 2594.9 1208 2594.5 1213 2593.8 1218 2592.8 1223 2591.6 1228 2590.2 1233 2588.7 1238 2587.1 1243 2585.6 1248 2583.9 1253 2581.8 1258 2579.4 1263 2576.8 1268 2574.1 1273 2571.2 1278 2568.3 1283 2565.4 1288 2562.6 1293 2559.8 1298 2556.9 1303 2554.0 1308 2551.0 1313 2547.9 1318 2544.6 1323 2541.2 1328 2537.6 1333 2533.7 1338 2529.4 1343 2524.8 1348 2520.1 1353 2515.2 1358 2510.2 1363 2505.3 1368 2500.4 1373 2495.7 1378 2491.0 1383 2486.2 1388 2481.3 1393 2476.5 1398 2471.7 1403 2467.0 1408 2462.4 1413 2458.0 1418 2453.7 1423 2449.3 1428 2445.0 1433 2440.9 1438 2437.1 1443 2433.7 1448 2430.6 1453 2427.5 1458 2424.7 1463 2422.2 1468 2420.5 1473 2419.4 1478 2418.5 1483 2417.6 1488 2416.9 1493 2416.4 1498 2416.1 1503 2416.0 1508 2416.4 1513 2417.1 1518 2418.2 1523 2419.6 1528 2421.1 1533 2422.7 1538 2424.5 1543 2426.7 1548 2429.5 1553 2432.6 1558 2435.9 1563 2439.4 1568 2443.0 1573 2446.9 1578 2451.2 1583 2455.9 1588 2460.7 1593 2465.8 1598 2471.0 1603 2476.3 1608 2482.0 1613 2487.8 1618 2494.0 1623 2500.6 1628 2507.6 1633 2515.4 1638 2523.6 1643 2532.0 1648 2540.2 1653 2547.9 1658 2555.4 1663 2562.8 1668 2570.0 1673 2576.8 1678 2583.0 1683 2588.8 1688 2594.3 1693 2599.5 1698 2604.5 1703 2609.1 1708 2613.4 1713 2617.3 1718 2621.1 1723 2624.7 1728 2628.1 1733 2631.2 1738 2634.0 1743 2636.5 1748 2638.8 1753 2640.9 1758 2643.0 1763 2644.9 1768 2646.6 1773 2648.3 1778 2649.9 1783 2651.4 1788 2652.9 1793 2654.3 1798 2655.7 1803 2657.1 1808 2658.3 1813 2659.5 1818 2660.5 1823 2661.4 1828 2662.0 1833 2662.6 1838 2663.1 1843 2663.7 1848 2664.1 1853 2664.6 1858 2665.0 1863 2665.4 1868 2665.8 1873 2666.1 1878 2666.4 1883 2666.6 1888 2666.8 1893 2666.9 1898 2667.0 1903 2667.1 1908 2667.2 1913 2667.2 1918 2667.3 1923 2667.4 1928 2667.5 1933 2667.5 1938 2667.6 1943 2667.6 1948 2667.7 1953 2667.8 1958 2667.8 1963 2667.9 1968 2667.9 1973 2667.9 1978 2668.0 1983 2668.0 1988 2668.1 1993 2668.1 1998 2668.1 2003 2668.2 2008 2668.2 2013 2668.2 2018 2668.2 2023 2668.2 2028 2668.3 2033 2668.3 2038 2668.3 2043 2668.3 2048 2668.3 2050 2668.3" fill="none" stroke="#800080" stroke-width="14.5" stroke-linejoin="round" stroke-linecap="round"/>
<path d="M188 2485.6 193 2485.4 198 2485.3 203 2485.1 208 2484.9 213 2484.7 218 2484.6 223 2484.4 228 2484.2 233 2484.0 238 2483.8 243 2483.6 248 2483.3 253 2483.1 258 2482.9 263 2482.7 268 2482.5 273 2482.2 278 2482.0 283 2481.8 288 2481.5 293 2481.3 298 2481.1 303 2480.8 308 2480.6 313 2480.3 318 2480.0 323 2479.8 328 2479.5 333 2479.2 338 2478.9 343 2478.7 348 2478.4 353 2478.1 358 2477.8 363 2477.5 368 2477.2 373 2476.9 378 2476.5 383 2476.2 388 2475.9 393 2475.5 398 2475.2 403 2474.8 408 2474.5 413 2474.1 418 2473.8 423 2473.4 428 2473.0 433 2472.6 438 2472.2 443 2471.8 448 2471.4 453 2471.0 458 2470.6 463 2470.1 468 2469.7 473 2469.2 478 2468.7 483 2468.2 488 2467.7 493 2467.2 498 2466.6 503 2466.1 508 2465.5 513 2464.9 518 2464.2 523 2463.6 528 2462.9 533 2462.1 538 2461.3 543 2460.5 548 2459.5 553 2458.6 558 2457.5 563 2456.4 568 2455.2 573 2453.9 578 2452.6 583 2451.1 588 2449.3 593 2447.3 598 2445.0 603 2442.6 608 2440.1 613 2437.6 618 2435.1 623 2432.6 628 2430.3 633 2428.2 638 2426.3 643 2424.3 648 2422.4 653 2420.5 658 2418.7 663 2416.9 668 2415.2 673 2413.5 678 2412.0 683 2410.6 688 2409.2 693 2408.1 698 2407.0 703 2406.0 708 2405.1 713 2404.2 718 2403.3 723 2402.5 728 2401.7 733 2400.8 738 2399.9 743 2398.9 748 2397.9 753 2396.7 758 2395.5 763 2394.2 768 2392.8 773 2391.3 778 2389.7 783 2388.1 788 2386.3 793 2384.5 798 2382.5 803 2380.5 808 2378.3 813 2375.9 818 2373.1 823 2370.0 828 2366.6 833 2363.1 838 2359.6 843 2356.2 848 2352.8 853 2349.5 858 2345.9 863 2342.4 868 2339.0 873 2335.8 878 2333.0 883 2330.6 888 2328.3 893 2326.1 898 2324.0 903 2322.0 908 2320.2 913 2318.6 918 2317.2 923 2315.9 928 2314.8 933 2313.7 938 2312.8 943 2311.9 948 2311.1 953 2310.4 958 2309.9 963 2309.5 968 2309.1 973 2308.7 978 2308.4 983 2308.2 988 2308.0 993 2308.0 998 2308.3 1003 2309.0 1008 2310.0 1013 2311.2 1018 2312.6 1023 2314.1 1028 2315.6 1033 2317.2 1038 2319.2 1043 2321.4 1048 2324.0 1053 2326.7 1058 2329.6 1063 2332.5 1068 2335.4 1073 2338.4 1078 2341.7 1083 2345.1 1088 2348.6 1093 2352.2 1098 2355.8 1103 2359.4 1108 2363.0 1113 2366.5 1118 2370.1 1123 2373.8 1128 2377.6 1133 2381.3 1138 2384.8 1143 2388.2 1148 2391.3 1153 2394.0 1158 2396.7 1163 2399.4 1168 2402.1 1173 2404.5 1178 2406.6 1183 2408.2 1188 2409.3 1193 2409.9 1198 2410.4 1203 2410.9 1208 2411.3 1213 2411.6 1218 2411.8 1223 2412.0 1228 2412.0 1233 2411.9 1238 2411.7 1243 2411.4 1248 2411.1 1253 2410.6 1258 2410.1 1263 2409.6 1268 2408.9 1273 2407.8 1278 2406.3 1283 2404.5 1288 2402.5 1293 2400.2 1298 2397.9 1303 2395.4 1308 2393.0 1313 2390.3 1318 2387.2 1323 2383.8 1328 2380.1 1333 2376.4 1338 2372.6 1343 2368.8 1348 2365.1 1353 2361.6 1358 2358.1 1363 2354.6 1368 2351.2 1373 2347.6 1378 2344.0 1383 2340.3 1388 2336.6 1393 2332.6 1398 2328.1 1403 2323.5 1408 2318.8 1413 2314.3 1418 2310.1 1423 2306.6 1428 2303.7 1433 2300.9 1438 2298.3 1443 2295.9 1448 2293.8 1453 2291.9 1458 2290.3 1463 2288.9 1468 2287.6 1473 2286.4 1478 2285.3 1483 2284.3 1488 2283.4 1493 2282.6 1498 2281.9 1503 2281.4 1508 2280.9 1513 2280.5 1518 2280.1 1523 2280.0 1528 2280.1 1533 2280.6 1538 2281.3 1543 2282.3 1548 2283.4 1553 2284.7 1558 2286.0 1563 2287.5 1568 2289.3 1573 2291.7 1578 2294.4 1583 2297.5 1588 2300.8 1593 2304.4 1598 2308.0 1603 2312.1 1608 2316.8 1613 2322.0 1618 2327.4 1623 2332.9 1628 2338.3 1633 2344.0 1638 2349.8 1643 2355.8 1648 2361.8 1653 2367.6 1658 2373.4 1663 2379.1 1668 2384.8 1673 2390.5 1678 2395.9 1683 2401.0 1688 2405.8 1693 2410.5 1698 2415.0 1703 2419.4 1708 2423.6 1713 2427.6 1718 2431.4 1723 2435.1 1728 2438.6 1733 2442.0 1738 2445.2 1743 2448.4 1748 2451.4 1753 2454.3 1758 2457.1 1763 2459.7 1768 2462.3 1773 2464.9 1778 2467.4 1783 2469.8 1788 2472.0 1793 2474.2 1798 2476.2 1803 2478.0 1808 2479.6 1813 2481.2 1818 2482.7 1823 2484.2 1828 2485.5 1833 2486.7 1838 2487.8 1843 2488.7 1848 2489.5 1853 2490.1 1858 2490.6 1863 2491.1 1868 2491.6 1873 2492.0 1878 2492.5 1883 2492.9 1888 2493.2 1893 2493.5 1898 2493.8 1903 2494.1 1908 2494.4 1913 2494.6 1918 2494.8 1923 2495.0 1928 2495.1 1933 2495.3 1938 2495.5 1943 2495.6 1948 2495.8 1953 2495.9 1958 2496.1 1963 2496.2 1968 2496.3 1973 2496.4 1978 2496.6 1983 2496.7 1988 2496.8 1993 2496.9 1998 2497.0 2003 2497.1 2008 2497.2 2013 2497.3 2018 2497.3 2023 2497.4 2028 2497.5 2033 2497.5 2038 2497.5 2043 2497.6 2048 2497.6 2050 2497.6" fill="none" stroke="#808080" stroke-width="14.5" stroke-linejoin="round" stroke-linecap="round"/>
<path d="M188 2305.2 193 2304.9 198 2304.6 203 2304.3 208 2304.0 213 2303.7 218 2303.4 223 2303.0 228 2302.7 233 2302.4 238 2302.1 243 2301.8 248 2301.5 253 2301.1 258 2300.8 263 2300.5 268 2300.2 273 2299.8 278 2299.5 283 2299.2 288 2298.8 293 2298.5 298 2298.2 303 2297.8 308 2297.5 313 2297.1 318 2296.8 323 2296.4 328 2296.1 333 2295.7 338 2295.4 343 2295.0 348 2294.7 353 2294.3 358 2294.0 363 2293.6 368 2293.2 373 2292.9 378 2292.5 383 2292.1 388 2291.7 393 2291.3 398 2291.0 403 2290.6 408 2290.2 413 2289.8 418 2289.4 423 2288.9 428 2288.5 433 2288.1 438 2287.7 443 2287.2 448 2286.8 453 2286.4 458 2285.9 463 2285.5 468 2285.1 473 2284.6 478 2284.2 483 2283.7 488 2283.2 493 2282.7 498 2282.2 503 2281.6 508 2281.1 513 2280.5 518 2279.9 523 2279.2 528 2278.5 533 2277.8 538 2276.9 543 2276.0 548 2275.0 553 2274.0 558 2272.9 563 2271.8 568 2270.7 573 2269.5 578 2268.2 583 2266.8 588 2265.3 593 2263.6 598 2261.7 603 2259.1 608 2256.0 613 2252.5 618 2248.9 623 2245.3 628 2242.0 633 2239.1 638 2236.6 643 2234.2 648 2231.8 653 2229.6 658 2227.5 663 2225.6 668 2223.8 673 2222.2 678 2220.7 683 2219.4 688 2218.2 693 2217.0 698 2215.8 703 2214.7 708 2213.5 713 2212.2 718 2210.8 723 2209.4 728 2208.0 733 2206.7 738 2205.2 743 2203.8 748 2202.3 753 2200.7 758 2199.1 763 2197.4 768 2195.6 773 2193.8 778 2191.9 783 2189.8 788 2187.7 793 2185.5 798 2183.2 803 2180.8 808 2178.3 813 2175.6 818 2172.6 823 2169.4 828 2166.0 833 2162.6 838 2159.2 843 2155.9 848 2152.8 853 2149.8 858 2146.9 863 2144.0 868 2141.1 873 2138.4 878 2135.7 883 2133.1 888 2130.4 893 2127.6 898 2125.0 903 2122.7 908 2120.8 913 2119.6 918 2118.6 923 2117.7 928 2116.8 933 2116.1 938 2115.5 943 2115.2 948 2115.0 953 2115.0 958 2115.2 963 2115.5 968 2115.8 973 2116.3 978 2116.8 983 2117.4 988 2118.1 993 2118.9 998 2120.1 1003 2122.0 1008 2124.4 1013 2127.2 1018 2130.3 1023 2133.4 1028 2136.5 1033 2139.7 1038 2143.2 1043 2146.9 1048 2150.9 1053 2155.0 1058 2159.2 1063 2163.4 1068 2167.5 1073 2171.8 1078 2176.4 1083 2181.0 1088 2185.6 1093 2190.1 1098 2194.2 1103 2198.0 1108 2201.4 1113 2204.8 1118 2208.0 1123 2211.1 1128 2214.1 1133 2216.8 1138 2219.2 1143 2221.4 1148 2223.2 1153 2224.9 1158 2226.5 1163 2228.1 1168 2229.5 1173 2230.8 1178 2231.8 1183 2232.7 1188 2233.3 1193 2233.6 1198 2234.0 1203 2234.3 1208 2234.5 1213 2234.7 1218 2234.9 1223 2235.0 1228 2235.0 1233 2234.8 1238 2234.4 1243 2233.7 1248 2232.9 1253 2232.0 1258 2231.0 1263 2229.9 1268 2228.7 1273 2227.0 1278 2225.0 1283 2222.7 1288 2220.2 1293 2217.5 1298 2214.6 1303 2211.7 1308 2208.8 1313 2205.6 1318 2202.2 1323 2198.4 1328 2194.5 1333 2190.5 1338 2186.4 1343 2182.5 1348 2178.6 1353 2174.9 1358 2171.3 1363 2167.6 1368 2164.0 1373 2160.4 1378 2156.8 1383 2153.0 1388 2149.2 1393 2145.1 1398 2140.7 1403 2136.3 1408 2131.8 1413 2127.6 1418 2123.8 1423 2120.6 1428 2117.8 1433 2115.1 1438 2112.6 1443 2110.3 1448 2108.2 1453 2106.5 1458 2105.2 1463 2104.2 1468 2103.2 1473 2102.3 1478 2101.5 1483 2100.9 1488 2100.4 1493 2100.1 1498 2100.0 1503 2100.2 1508 2100.6 1513 2101.2 1518 2101.9 1523 2102.8 1528 2103.7 1533 2104.8 1538 2106.1 1543 2107.9 1548 2110.2 1553 2112.9 1558 2115.9 1563 2119.1 1568 2122.3 1573 2126.1 1578 2130.4 1583 2135.1 1588 2140.1 1593 2145.3 1598 2150.7 1603 2156.5 1608 2162.9 1613 2169.7 1618 2176.4 1623 2182.8 1628 2188.8 1633 2194.5 1638 2200.2 1643 2205.7 1648 2211.0 1653 2216.2 1658 2221.2 1663 2226.1 1668 2230.9 1673 2235.5 1678 2240.0 1683 2244.3 1688 2248.4 1693 2252.2 1698 2256.0 1703 2259.6 1708 2263.0 1713 2266.3 1718 2269.2 1723 2272.0 1728 2274.6 1733 2277.2 1738 2279.6 1743 2281.9 1748 2284.1 1753 2286.1 1758 2287.8 1763 2289.4 1768 2290.7 1773 2292.0 1778 2293.2 1783 2294.3 1788 2295.4 1793 2296.3 1798 2297.2 1803 2298.1 1808 2298.8 1813 2299.5 1818 2300.1 1823 2300.7 1828 2301.3 1833 2301.8 1838 2302.4 1843 2302.8 1848 2303.3 1853 2303.7 1858 2304.0 1863 2304.2 1868 2304.4 1873 2304.4 1878 2304.5 1883 2304.6 1888 2304.6 1893 2304.7 1898 2304.7 1903 2304.8 1908 2304.8 1913 2304.9 1918 2304.9 1923 2305.0 1928 2305.0 1933 2305.1 1938 2305.1 1943 2305.1 1948 2305.2 1953 2305.2 1958 2305.2 1963 2305.3 1968 2305.3 1973 2305.3 1978 2305.3 1983 2305.4 1988 2305.4 1993 2305.4 1998 2305.4 2003 2305.4 2008 2305.4 2013 2305.5 2018 2305.5 2023 2305.5 2028 2305.5 2033 2305.5 2038 2305.5 2043 2305.5 2048 2305.5 2050 2305.5" fill="none" stroke="#bfbf00" stroke-width="14.5" stroke-linejoin="round" stroke-linecap="round"/>
<line x1="865" y1="2658.8" x2="865" y2="3431" stroke="#ff0000" stroke-width="12" stroke-dasharray="54.3 15.6 54.3 15.6 54.3 46.2"/>
<text x="198.8 248.1 292.9 351.1 395.9 476.2 543.2" y="180.0" font-size="80.0">S7E3MG3</text>
<text x="756.1 800.9 845.7 870.5" y="180.0" font-size="80.0">87.8</text>
<text x="1416.0 1460.8 1505.6 1550.4 1575.2" y="180.0" font-size="80.0">118.4</text>
<text x="202.0 251.3 296.1 354.2 399.0 479.3 537.5" y="316.0" font-size="80.0">S7E3MT3</text>
<text x="728.8 773.6 818.4 843.2" y="316.0" font-size="80.0">87.3</text>
<text x="1416.8 1461.6 1506.4 1551.2 1576.0" y="316.0" font-size="80.0">118.5</text>
<text x="202.0 251.3 296.1 354.2 399.0 479.3 537.5" y="471.0" font-size="80.0">S7E3MB3</text>
<text x="716.6 761.4 806.2 831.0" y="471.0" font-size="80.0">85.6</text>
<text x="1416.0 1460.8 1505.6 1550.4 1575.2" y="471.0" font-size="80.0">117.4</text>
<text x="199.8 249.1 293.9 352.0 396.8 477.1 539.7" y="628.0" font-size="80.0">S7E3MA3</text>
<text x="666.9 711.7 756.5 781.3" y="628.0" font-size="80.0">80.9</text>
<text x="1359.6 1404.4 1449.2 1494.0 1518.8" y="628.0" font-size="80.0">115.3</text>
<text x="201.4 250.7 295.5 353.6 398.4" y="776.0" font-size="80.0">S7E3M</text>
<text x="576.7 621.5 666.3 691.1" y="776.0" font-size="80.0">88.4</text>
<text x="1400.7 1445.5 1490.3 1535.1 1559.9" y="776.0" font-size="80.0">117.9</text>
<text x="207.5 256.8 301.6 359.7" y="923.4" font-size="80.0">S7E3</text>
<text x="556.2 601.0 645.8 670.6" y="923.4" font-size="80.0">79.7</text>
<text x="1427.1 1471.9 1516.7 1561.5 1586.3" y="923.4" font-size="80.0">117.3</text>
<text x="203.1 270.1 332.7 386.3" y="1062.0" font-size="80.0">HDPE</text>
<text x="1205.3 1250.1 1294.9 1339.7 1364.5" y="1064.8" font-size="80.0">117.3</text>
<text x="209.6 263.2 321.4" y="1201.0" font-size="80.0">PBS</text>
<text x="502.6 547.4 592.2 617.0" y="1201.0" font-size="80.0">76.1</text>
<text x="203.1 252.4 297.2 355.4 400.2 480.5 547.5" y="2246.8" font-size="80.0">S7E3MG3</text>
<text x="202.0 251.3 296.1 354.2 399.0 479.3 537.5" y="2425.5" font-size="80.0">S7E3MT3</text>
<text x="202.0 251.3 296.1 354.2 399.0 479.3 537.5" y="2599.0" font-size="80.0">S7E3MB3</text>
<text x="204.1 253.4 298.2 356.4 401.2 481.5 544.1" y="2798.7" font-size="80.0">S7E3MA3</text>
<text x="202.3 251.6 296.4 354.5 399.3" y="2990.8" font-size="80.0">S7E3M</text>
<text x="201.3 250.6 295.4 353.6" y="3166.5" font-size="80.0">S7E3</text>
<text x="205.8 272.8 335.4 389.1" y="3350.0" font-size="80.0">HDPE</text>
<text x="204.3 257.9 316.1" y="3536.0" font-size="80.0">PBS</text>
<text x="1082.1 1126.9 1171.7 1216.5 1241.3" y="2160.0" font-size="80.0">116.4</text>
<text x="869.9 914.7 959.5 1004.3 1029.1" y="2289.5" font-size="80.0">117.4</text>
<text x="870.5 915.3 960.1 1004.9 1029.7" y="2475.5" font-size="80.0">116.8</text>
<text x="890.8 935.6 980.4 1025.2 1050.0" y="2663.0" font-size="80.0">117.2</text>
<text x="891.0 935.8 980.6 1025.4 1050.2" y="2785.0" font-size="80.0">116.2</text>
<text x="897.1 941.9 986.7 1031.5 1056.3" y="2985.5" font-size="80.0">113.6</text>
<text x="756.9 801.7 846.5 891.3 916.1" y="3542.0" font-size="80.0">113.7</text>
<text x="1829.4 1874.2 1919.0 1963.8 1988.6" y="2281.0" font-size="80.0">135.9</text>
<text x="1829.5 1874.3 1919.1 1963.9 1988.7" y="2460.0" font-size="80.0">136.7</text>
<text x="1830.2 1875.0 1919.8 1964.6 1989.4" y="2633.6" font-size="80.0">136.2</text>
<text x="1828.6 1873.4 1918.2 1963.0 1987.8" y="2818.5" font-size="80.0">136.4</text>
<text x="1829.6 1874.4 1919.2 1964.0 1988.8" y="3017.5" font-size="80.0">134.9</text>
<text x="1829.7 1874.5 1919.3 1964.1 1988.9" y="3188.0" font-size="80.0">133.5</text>
<text x="1829.6 1874.4 1919.2 1964.0 1988.8" y="3343.0" font-size="80.0">135.3</text>
<text x="1883.5" y="146.5" font-size="110.0" textLength="139.0" lengthAdjust="spacing">(a)</text>
<text x="1889.0" y="2182.0" font-size="110.0" textLength="141.0" lengthAdjust="spacing">(b)</text>
<text x="661.4" y="2324.7" font-size="112.0" style="fill:#800000">I</text>
<text x="653.7" y="3056.6" font-size="112.0" style="fill:#800000">I</text>
<text x="501.9" y="3324.0" font-size="112.0" style="fill:#800000">I</text>
<text x="819.9 863.5" y="3686.0" font-size="112.0" style="fill:#800000">II</text>
<path d="M783.3 2098.8 L710.5 2192.5 M720.0 2131.5 L710.5 2192.5 L765.5 2167.0" fill="none" stroke="#c00000" stroke-width="7" stroke-linecap="round" stroke-linejoin="miter"/>
<path d="M783.3 2816.8 L710.5 2910.5 M720.0 2848.6 L710.5 2910.5 L765.5 2885.6" fill="none" stroke="#c00000" stroke-width="7" stroke-linecap="round" stroke-linejoin="miter"/>
<text x="272.2 325.0" y="1892.3" font-size="94.0">60</text>
<text x="536.7 589.5" y="1892.3" font-size="94.0">70</text>
<text x="801.3 854.1" y="1892.3" font-size="94.0">80</text>
<text x="1065.8 1118.6" y="1892.3" font-size="94.0">90</text>
<text x="1303.9 1356.7 1409.5" y="1892.3" font-size="94.0">100</text>
<text x="1568.5 1621.3 1674.1" y="1892.3" font-size="94.0">110</text>
<text x="1833.0 1885.8 1938.6" y="1892.3" font-size="94.0">120</text>
<text x="138.1 190.9" y="3928.8" font-size="94.0">90</text>
<text x="397.3 450.1 502.9" y="3928.8" font-size="94.0">100</text>
<text x="682.9 735.7 788.5" y="3928.8" font-size="94.0">110</text>
<text x="968.5 1021.3 1074.1" y="3928.8" font-size="94.0">120</text>
<text x="1254.1 1306.9 1359.7" y="3928.8" font-size="94.0">130</text>
<text x="1539.7 1592.5 1645.3" y="3928.8" font-size="94.0">140</text>
<text x="1825.3 1878.1 1930.9" y="3928.8" font-size="94.0">150</text>
<text font-size="92"><tspan x="720.4 790.7 832.9 919.1 972.5 1021.2 1063.0 1113.9 1150.8 1204.1 1248.3" y="2016.0">Temperature</tspan> <tspan x="1318.5" y="2016.0">(</tspan><tspan x="1354.8" y="1972.0" font-size="85">o</tspan><tspan x="1404 1472" y="2016.0">C)</tspan></text>
<text font-size="92"><tspan x="720.4 790.7 832.9 919.1 972.5 1021.2 1063.0 1113.9 1150.8 1204.1 1248.3" y="4050.0">Temperature</tspan> <tspan x="1318.5" y="4050.0">(</tspan><tspan x="1354.8" y="4006.0" font-size="85">o</tspan><tspan x="1404 1472" y="4050.0">C)</tspan></text>
<text transform="translate(108,900.0) rotate(-90)" font-size="92" text-anchor="middle" textLength="338" lengthAdjust="spacing">Endo up</text>
<text transform="translate(108,2936.0) rotate(-90)" font-size="92" text-anchor="middle" textLength="338" lengthAdjust="spacing">Endo up</text>
</svg></body></html>
